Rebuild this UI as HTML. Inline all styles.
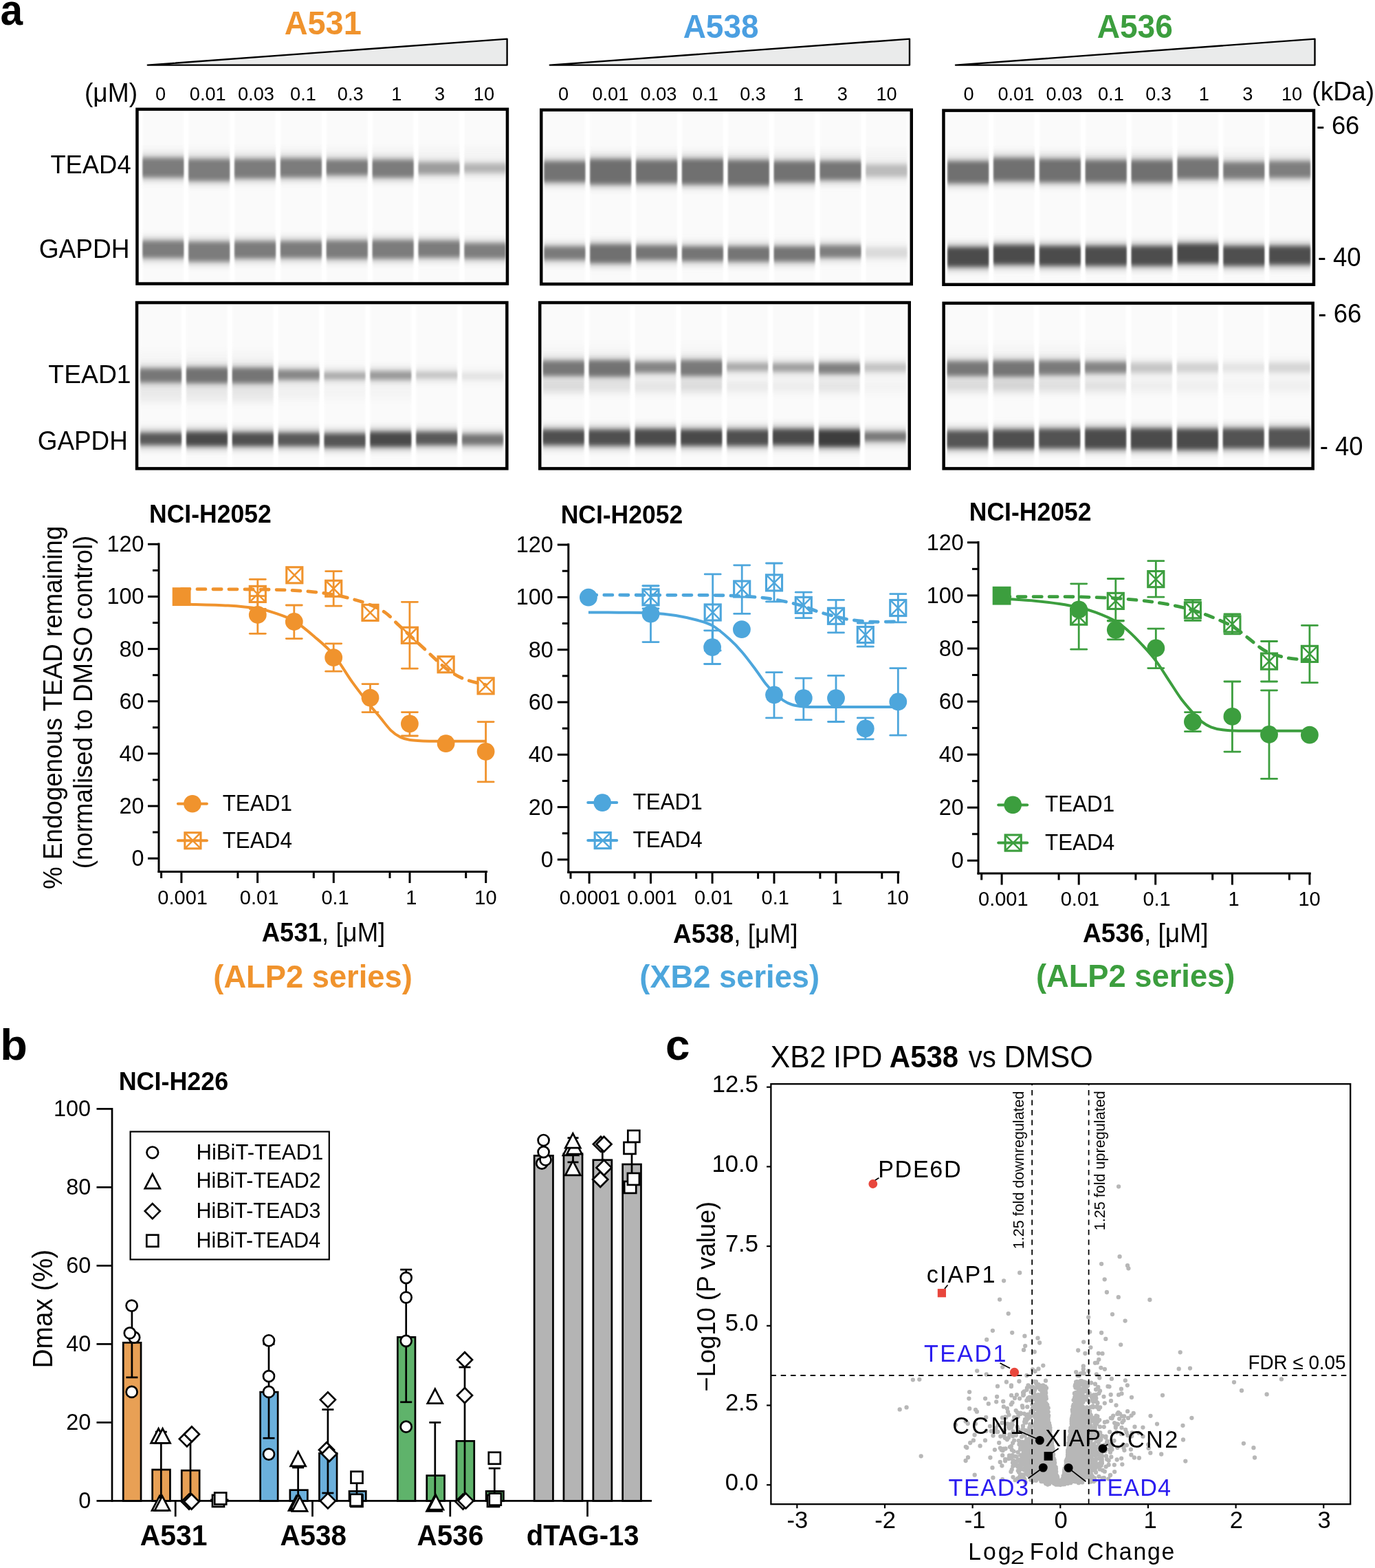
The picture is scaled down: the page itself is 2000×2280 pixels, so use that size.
<!DOCTYPE html>
<html lang="en"><head><meta charset="utf-8"><title>Figure</title>
<style>
html,body{margin:0;padding:0;background:#fff;}
body{width:2000px;height:2280px;overflow:hidden;font-family:'Liberation Sans', sans-serif;}
svg{display:block;}
svg text{font-family:"Liberation Sans",sans-serif;}
</style></head>
<body>
<svg width="2000" height="2280" viewBox="0 0 2000 2280">
<defs>
<filter id="bl" x="-5%" y="-20%" width="110%" height="140%"><feGaussianBlur stdDeviation="0.9 3.1"/></filter>
<filter id="blh" x="-5%" y="-20%" width="110%" height="140%"><feGaussianBlur stdDeviation="0.9 6"/></filter>
<filter id="bl2" x="-5%" y="-20%" width="110%" height="140%"><feGaussianBlur stdDeviation="0.9 6"/></filter>
<filter id="bl0" x="-5%" y="-5%" width="110%" height="110%"><feGaussianBlur stdDeviation="1.0 0"/></filter>
</defs>
<rect x="0" y="0" width="2000" height="2280" fill="#ffffff"/>
<text transform="translate(0.54,36.20) scale(0.9798,1.04)" font-size="59.80" font-weight="bold" fill="#000">a</text>
<text transform="translate(0.19,1540.70) scale(1.0792,1.04)" font-size="60.00" font-weight="bold" fill="#000">b</text>
<text transform="translate(967.95,1541.00) scale(1.0632,1.04)" font-size="60.00" font-weight="bold" fill="#000">c</text>
<text transform="translate(413.63,50.40) scale(1.0157,1.04)" font-size="46.20" font-weight="bold" fill="#F0932D">A531</text>
<text transform="translate(993.65,54.80) scale(0.9956,1.04)" font-size="46.20" font-weight="bold" fill="#4B9FE1">A538</text>
<text transform="translate(1595.65,54.80) scale(0.9977,1.04)" font-size="46.20" font-weight="bold" fill="#3C9E3E">A536</text>
<path d="M214.8,94.6 L737.6,56.6 L737.6,94.6 Z" fill="#eaebeb" stroke="#000" stroke-width="2.4" stroke-linejoin="round"/>
<path d="M799.8,94.6 L1323.0,56.6 L1323.0,94.6 Z" fill="#eaebeb" stroke="#000" stroke-width="2.4" stroke-linejoin="round"/>
<path d="M1390.0,94.6 L1912.5,56.6 L1912.5,94.6 Z" fill="#eaebeb" stroke="#000" stroke-width="2.4" stroke-linejoin="round"/>
<text transform="translate(122.88,147.60) scale(1.0000,1.04)" font-size="37.18" fill="#000">(μM)</text>
<text transform="translate(1908.28,146.20) scale(1.0000,1.04)" font-size="37.12" fill="#000">(kDa)</text>
<text transform="translate(226.02,145.60) scale(1.0000,1.04)" font-size="27.20" fill="#000">0</text>
<text transform="translate(275.83,145.60) scale(1.0000,1.04)" font-size="27.20" fill="#000">0.01</text>
<text transform="translate(345.98,145.60) scale(1.0000,1.04)" font-size="27.20" fill="#000">0.03</text>
<text transform="translate(422.08,145.60) scale(1.0000,1.04)" font-size="27.20" fill="#000">0.1</text>
<text transform="translate(490.83,145.60) scale(1.0000,1.04)" font-size="27.20" fill="#000">0.3</text>
<text transform="translate(569.16,145.60) scale(1.0000,1.04)" font-size="27.20" fill="#000">1</text>
<text transform="translate(632.12,145.60) scale(1.0000,1.04)" font-size="27.20" fill="#000">3</text>
<text transform="translate(688.79,145.60) scale(1.0000,1.04)" font-size="27.20" fill="#000">10</text>
<text transform="translate(812.02,145.60) scale(1.0000,1.04)" font-size="27.20" fill="#000">0</text>
<text transform="translate(861.43,145.60) scale(1.0000,1.04)" font-size="27.20" fill="#000">0.01</text>
<text transform="translate(931.58,145.60) scale(1.0000,1.04)" font-size="27.20" fill="#000">0.03</text>
<text transform="translate(1007.08,145.60) scale(1.0000,1.04)" font-size="27.20" fill="#000">0.1</text>
<text transform="translate(1076.13,145.60) scale(1.0000,1.04)" font-size="27.20" fill="#000">0.3</text>
<text transform="translate(1153.76,145.60) scale(1.0000,1.04)" font-size="27.20" fill="#000">1</text>
<text transform="translate(1217.82,145.60) scale(1.0000,1.04)" font-size="27.20" fill="#000">3</text>
<text transform="translate(1274.39,145.60) scale(1.0000,1.04)" font-size="27.20" fill="#000">10</text>
<text transform="translate(1401.62,145.60) scale(1.0000,1.04)" font-size="27.20" fill="#000">0</text>
<text transform="translate(1451.43,145.60) scale(1.0000,1.04)" font-size="27.20" fill="#000">0.01</text>
<text transform="translate(1521.58,145.60) scale(1.0000,1.04)" font-size="27.20" fill="#000">0.03</text>
<text transform="translate(1596.98,145.60) scale(1.0000,1.04)" font-size="27.20" fill="#000">0.1</text>
<text transform="translate(1666.13,145.60) scale(1.0000,1.04)" font-size="27.20" fill="#000">0.3</text>
<text transform="translate(1743.66,145.60) scale(1.0000,1.04)" font-size="27.20" fill="#000">1</text>
<text transform="translate(1807.32,145.60) scale(1.0000,1.04)" font-size="27.20" fill="#000">3</text>
<text transform="translate(1863.99,145.60) scale(1.0000,1.04)" font-size="27.20" fill="#000">10</text>
<text transform="translate(73.38,252.00) scale(1.0000,1.04)" font-size="36.38" fill="#000">TEAD4</text>
<text transform="translate(56.74,374.80) scale(1.0000,1.04)" font-size="37.11" fill="#000">GAPDH</text>
<text transform="translate(70.36,556.90) scale(1.0253,1.04)" font-size="36.40" fill="#000">TEAD1</text>
<text transform="translate(54.76,653.50) scale(1.0123,1.04)" font-size="36.40" fill="#000">GAPDH</text>
<text transform="translate(1914.66,194.80) scale(1.0000,1.04)" font-size="36.39" fill="#000">- 66</text>
<text transform="translate(1916.65,387.20) scale(1.0000,1.04)" font-size="36.59" fill="#000">- 40</text>
<text transform="translate(1917.35,469.20) scale(1.0000,1.04)" font-size="36.57" fill="#000">- 66</text>
<text transform="translate(1919.76,661.60) scale(1.0000,1.04)" font-size="36.46" fill="#000">- 40</text>
<rect x="199.45" y="158.85" width="538.50" height="253.70" fill="#ffffff"/>
<g filter="url(#bl0)">
<rect x="207.60" y="161.10" width="59.50" height="249.20" fill="#fafafa"/>
<rect x="274.46" y="161.10" width="59.50" height="249.20" fill="#fafafa"/>
<rect x="341.32" y="161.10" width="59.50" height="249.20" fill="#fafafa"/>
<rect x="408.18" y="161.10" width="59.50" height="249.20" fill="#fafafa"/>
<rect x="475.04" y="161.10" width="59.50" height="249.20" fill="#fafafa"/>
<rect x="541.90" y="161.10" width="59.50" height="249.20" fill="#fafafa"/>
<rect x="608.76" y="161.10" width="59.50" height="249.20" fill="#fafafa"/>
<rect x="675.62" y="161.10" width="59.50" height="249.20" fill="#fafafa"/>
</g>
<g filter="url(#bl2)">
<rect x="207.60" y="214.00" width="59.50" height="18.00" fill="#f5f5f5"/>
<rect x="274.46" y="214.00" width="59.50" height="18.00" fill="#f5f5f5"/>
<rect x="341.32" y="214.00" width="59.50" height="18.00" fill="#f5f5f5"/>
<rect x="408.18" y="214.00" width="59.50" height="18.00" fill="#f5f5f5"/>
<rect x="475.04" y="214.00" width="59.50" height="18.00" fill="#f5f5f5"/>
<rect x="541.90" y="214.00" width="59.50" height="18.00" fill="#f5f5f5"/>
<rect x="608.76" y="214.00" width="59.50" height="18.00" fill="#f5f5f5"/>
<rect x="675.62" y="214.00" width="59.50" height="18.00" fill="#f5f5f5"/>
</g>
<g filter="url(#blh)">
<rect x="207.60" y="226.20" width="59.50" height="35.10" fill="#c0c0c0"/>
<rect x="274.46" y="227.90" width="59.50" height="38.40" fill="#c0c0c0"/>
<rect x="341.32" y="227.90" width="59.50" height="35.00" fill="#c0c0c0"/>
<rect x="408.18" y="227.00" width="59.50" height="34.30" fill="#c0c0c0"/>
<rect x="475.04" y="228.90" width="59.50" height="29.20" fill="#c0c0c0"/>
<rect x="541.90" y="228.90" width="59.50" height="32.60" fill="#c0c0c0"/>
<rect x="608.76" y="232.50" width="59.50" height="24.00" fill="#cfcfcf"/>
<rect x="675.62" y="234.20" width="59.50" height="20.30" fill="#dadada"/>
<rect x="207.60" y="346.70" width="59.50" height="31.70" fill="#c0c0c0"/>
<rect x="274.46" y="348.30" width="59.50" height="35.20" fill="#c0c0c0"/>
<rect x="341.32" y="347.50" width="59.50" height="31.70" fill="#c0c0c0"/>
<rect x="408.18" y="347.50" width="59.50" height="30.90" fill="#c0c0c0"/>
<rect x="475.04" y="346.50" width="59.50" height="33.00" fill="#c0c0c0"/>
<rect x="541.90" y="345.80" width="59.50" height="33.70" fill="#c0c0c0"/>
<rect x="608.76" y="346.70" width="59.50" height="31.00" fill="#c0c0c0"/>
<rect x="675.62" y="350.20" width="59.50" height="29.30" fill="#c2c2c2"/>
</g>
<g filter="url(#bl)">
<rect x="207.60" y="230.20" width="59.50" height="27.10" fill="#7b7b7b"/>
<rect x="274.46" y="231.90" width="59.50" height="30.40" fill="#7b7b7b"/>
<rect x="341.32" y="231.90" width="59.50" height="27.00" fill="#7b7b7b"/>
<rect x="408.18" y="231.00" width="59.50" height="26.30" fill="#7b7b7b"/>
<rect x="475.04" y="232.90" width="59.50" height="21.20" fill="#7b7b7b"/>
<rect x="541.90" y="232.90" width="59.50" height="24.60" fill="#7b7b7b"/>
<rect x="608.76" y="236.50" width="59.50" height="16.00" fill="#9c9c9c"/>
<rect x="675.62" y="238.20" width="59.50" height="12.30" fill="#b4b4b4"/>
<rect x="207.60" y="350.70" width="59.50" height="23.70" fill="#7b7b7b"/>
<rect x="274.46" y="352.30" width="59.50" height="27.20" fill="#7b7b7b"/>
<rect x="341.32" y="351.50" width="59.50" height="23.70" fill="#7b7b7b"/>
<rect x="408.18" y="351.50" width="59.50" height="22.90" fill="#7b7b7b"/>
<rect x="475.04" y="350.50" width="59.50" height="25.00" fill="#7b7b7b"/>
<rect x="541.90" y="349.80" width="59.50" height="25.70" fill="#7b7b7b"/>
<rect x="608.76" y="350.70" width="59.50" height="23.00" fill="#7b7b7b"/>
<rect x="675.62" y="354.20" width="59.50" height="21.30" fill="#7e7e7e"/>
</g>
<rect x="199.45" y="158.85" width="538.50" height="253.70" fill="none" stroke="#000" stroke-width="4.5"/>
<rect x="787.25" y="159.85" width="538.50" height="253.20" fill="#ffffff"/>
<g filter="url(#bl0)">
<rect x="791.60" y="162.10" width="59.50" height="248.70" fill="#fafafa"/>
<rect x="858.46" y="162.10" width="59.50" height="248.70" fill="#fafafa"/>
<rect x="925.32" y="162.10" width="59.50" height="248.70" fill="#fafafa"/>
<rect x="992.18" y="162.10" width="59.50" height="248.70" fill="#fafafa"/>
<rect x="1059.04" y="162.10" width="59.50" height="248.70" fill="#fafafa"/>
<rect x="1125.90" y="162.10" width="59.50" height="248.70" fill="#fafafa"/>
<rect x="1192.76" y="162.10" width="59.50" height="248.70" fill="#fafafa"/>
<rect x="1259.62" y="162.10" width="59.50" height="248.70" fill="#fafafa"/>
</g>
<g filter="url(#bl2)">
<rect x="791.60" y="216.00" width="59.50" height="20.00" fill="#f5f5f5"/>
<rect x="858.46" y="216.00" width="59.50" height="20.00" fill="#f5f5f5"/>
<rect x="925.32" y="216.00" width="59.50" height="20.00" fill="#f5f5f5"/>
<rect x="992.18" y="216.00" width="59.50" height="20.00" fill="#f5f5f5"/>
<rect x="1059.04" y="216.00" width="59.50" height="20.00" fill="#f5f5f5"/>
<rect x="1125.90" y="216.00" width="59.50" height="20.00" fill="#f5f5f5"/>
<rect x="1192.76" y="216.00" width="59.50" height="20.00" fill="#f5f5f5"/>
<rect x="1259.62" y="216.00" width="59.50" height="20.00" fill="#f5f5f5"/>
</g>
<g filter="url(#blh)">
<rect x="791.60" y="231.00" width="59.50" height="37.30" fill="#bdbdbd"/>
<rect x="858.46" y="227.90" width="59.50" height="43.60" fill="#bbbbbb"/>
<rect x="925.32" y="229.50" width="59.50" height="40.40" fill="#bbbbbb"/>
<rect x="992.18" y="227.90" width="59.50" height="43.60" fill="#bbbbbb"/>
<rect x="1059.04" y="229.50" width="59.50" height="43.60" fill="#bbbbbb"/>
<rect x="1125.90" y="231.00" width="59.50" height="37.30" fill="#bcbcbc"/>
<rect x="1192.76" y="231.00" width="59.50" height="34.10" fill="#bebebe"/>
<rect x="1259.62" y="235.80" width="59.50" height="24.60" fill="#dedede"/>
<rect x="791.60" y="355.00" width="59.50" height="26.20" fill="#c0c0c0"/>
<rect x="858.46" y="351.90" width="59.50" height="34.00" fill="#bbbbbb"/>
<rect x="925.32" y="353.50" width="59.50" height="27.70" fill="#bdbdbd"/>
<rect x="992.18" y="355.00" width="59.50" height="27.80" fill="#bdbdbd"/>
<rect x="1059.04" y="355.00" width="59.50" height="28.50" fill="#bdbdbd"/>
<rect x="1125.90" y="355.00" width="59.50" height="28.50" fill="#bdbdbd"/>
<rect x="1192.76" y="353.50" width="59.50" height="24.50" fill="#c2c2c2"/>
<rect x="1259.62" y="356.50" width="59.50" height="21.50" fill="#ebebeb"/>
</g>
<g filter="url(#bl)">
<rect x="791.60" y="235.00" width="59.50" height="29.30" fill="#737373"/>
<rect x="858.46" y="231.90" width="59.50" height="35.60" fill="#6e6e6e"/>
<rect x="925.32" y="233.50" width="59.50" height="32.40" fill="#707070"/>
<rect x="992.18" y="231.90" width="59.50" height="35.60" fill="#707070"/>
<rect x="1059.04" y="233.50" width="59.50" height="35.60" fill="#707070"/>
<rect x="1125.90" y="235.00" width="59.50" height="29.30" fill="#727272"/>
<rect x="1192.76" y="235.00" width="59.50" height="26.10" fill="#767676"/>
<rect x="1259.62" y="239.80" width="59.50" height="16.60" fill="#bcbcbc"/>
<rect x="791.60" y="359.00" width="59.50" height="18.20" fill="#7a7a7a"/>
<rect x="858.46" y="355.90" width="59.50" height="26.00" fill="#707070"/>
<rect x="925.32" y="357.50" width="59.50" height="19.70" fill="#747474"/>
<rect x="992.18" y="359.00" width="59.50" height="19.80" fill="#747474"/>
<rect x="1059.04" y="359.00" width="59.50" height="20.50" fill="#747474"/>
<rect x="1125.90" y="359.00" width="59.50" height="20.50" fill="#747474"/>
<rect x="1192.76" y="357.50" width="59.50" height="16.50" fill="#7e7e7e"/>
<rect x="1259.62" y="360.50" width="59.50" height="13.50" fill="#dadada"/>
</g>
<rect x="787.25" y="159.85" width="538.50" height="253.20" fill="none" stroke="#000" stroke-width="4.5"/>
<rect x="1372.45" y="160.65" width="538.50" height="253.10" fill="#ffffff"/>
<g filter="url(#bl0)">
<rect x="1378.40" y="162.90" width="59.50" height="248.60" fill="#fafafa"/>
<rect x="1445.26" y="162.90" width="59.50" height="248.60" fill="#fafafa"/>
<rect x="1512.12" y="162.90" width="59.50" height="248.60" fill="#fafafa"/>
<rect x="1578.98" y="162.90" width="59.50" height="248.60" fill="#fafafa"/>
<rect x="1645.84" y="162.90" width="59.50" height="248.60" fill="#fafafa"/>
<rect x="1712.70" y="162.90" width="59.50" height="248.60" fill="#fafafa"/>
<rect x="1779.56" y="162.90" width="59.50" height="248.60" fill="#fafafa"/>
<rect x="1846.42" y="162.90" width="59.50" height="248.60" fill="#fafafa"/>
</g>
<g filter="url(#bl2)">
<rect x="1378.40" y="216.00" width="59.50" height="20.00" fill="#f5f5f5"/>
<rect x="1445.26" y="216.00" width="59.50" height="20.00" fill="#f5f5f5"/>
<rect x="1512.12" y="216.00" width="59.50" height="20.00" fill="#f5f5f5"/>
<rect x="1578.98" y="216.00" width="59.50" height="20.00" fill="#f5f5f5"/>
<rect x="1645.84" y="216.00" width="59.50" height="20.00" fill="#f5f5f5"/>
<rect x="1712.70" y="216.00" width="59.50" height="20.00" fill="#f5f5f5"/>
<rect x="1779.56" y="216.00" width="59.50" height="20.00" fill="#f5f5f5"/>
<rect x="1846.42" y="216.00" width="59.50" height="20.00" fill="#f5f5f5"/>
</g>
<g filter="url(#blh)">
<rect x="1378.40" y="231.00" width="59.50" height="38.90" fill="#bbbbbb"/>
<rect x="1445.26" y="226.30" width="59.50" height="40.40" fill="#bbbbbb"/>
<rect x="1512.12" y="227.90" width="59.50" height="40.40" fill="#bbbbbb"/>
<rect x="1578.98" y="229.50" width="59.50" height="38.80" fill="#bbbbbb"/>
<rect x="1645.84" y="229.50" width="59.50" height="38.80" fill="#bbbbbb"/>
<rect x="1712.70" y="226.30" width="59.50" height="37.20" fill="#bdbdbd"/>
<rect x="1779.56" y="232.50" width="59.50" height="31.00" fill="#c0c0c0"/>
<rect x="1846.42" y="231.00" width="59.50" height="30.90" fill="#c2c2c2"/>
<rect x="1378.40" y="356.00" width="59.50" height="35.40" fill="#ababab"/>
<rect x="1445.26" y="352.80" width="59.50" height="35.20" fill="#ababab"/>
<rect x="1512.12" y="354.40" width="59.50" height="35.40" fill="#ababab"/>
<rect x="1578.98" y="354.40" width="59.50" height="35.40" fill="#acacac"/>
<rect x="1645.84" y="354.40" width="59.50" height="35.40" fill="#acacac"/>
<rect x="1712.70" y="351.00" width="59.50" height="35.60" fill="#aaaaaa"/>
<rect x="1779.56" y="354.40" width="59.50" height="35.40" fill="#adadad"/>
<rect x="1846.42" y="354.40" width="59.50" height="33.80" fill="#acacac"/>
</g>
<g filter="url(#bl)">
<rect x="1378.40" y="235.00" width="59.50" height="30.90" fill="#707070"/>
<rect x="1445.26" y="230.30" width="59.50" height="32.40" fill="#707070"/>
<rect x="1512.12" y="231.90" width="59.50" height="32.40" fill="#707070"/>
<rect x="1578.98" y="233.50" width="59.50" height="30.80" fill="#707070"/>
<rect x="1645.84" y="233.50" width="59.50" height="30.80" fill="#707070"/>
<rect x="1712.70" y="230.30" width="59.50" height="29.20" fill="#747474"/>
<rect x="1779.56" y="236.50" width="59.50" height="23.00" fill="#7a7a7a"/>
<rect x="1846.42" y="235.00" width="59.50" height="22.90" fill="#7e7e7e"/>
<rect x="1378.40" y="360.00" width="59.50" height="27.40" fill="#4c4c4c"/>
<rect x="1445.26" y="356.80" width="59.50" height="27.20" fill="#4c4c4c"/>
<rect x="1512.12" y="358.40" width="59.50" height="27.40" fill="#4c4c4c"/>
<rect x="1578.98" y="358.40" width="59.50" height="27.40" fill="#4e4e4e"/>
<rect x="1645.84" y="358.40" width="59.50" height="27.40" fill="#4e4e4e"/>
<rect x="1712.70" y="355.00" width="59.50" height="27.60" fill="#4a4a4a"/>
<rect x="1779.56" y="358.40" width="59.50" height="27.40" fill="#505050"/>
<rect x="1846.42" y="358.40" width="59.50" height="25.80" fill="#4e4e4e"/>
</g>
<rect x="1372.45" y="160.65" width="538.50" height="253.10" fill="none" stroke="#000" stroke-width="4.5"/>
<rect x="199.05" y="440.05" width="538.30" height="241.30" fill="#ffffff"/>
<g filter="url(#bl0)">
<rect x="204.30" y="442.30" width="59.50" height="236.80" fill="#fafafa"/>
<rect x="271.16" y="442.30" width="59.50" height="236.80" fill="#fafafa"/>
<rect x="338.02" y="442.30" width="59.50" height="236.80" fill="#fafafa"/>
<rect x="404.88" y="442.30" width="59.50" height="236.80" fill="#fafafa"/>
<rect x="471.74" y="442.30" width="59.50" height="236.80" fill="#fafafa"/>
<rect x="538.60" y="442.30" width="59.50" height="236.80" fill="#fafafa"/>
<rect x="605.46" y="442.30" width="59.50" height="236.80" fill="#fafafa"/>
<rect x="672.32" y="442.30" width="59.50" height="236.80" fill="#fafafa"/>
</g>
<g filter="url(#bl2)">
<rect x="204.30" y="560.00" width="59.50" height="24.00" fill="#eaeaea"/>
<rect x="271.16" y="560.00" width="59.50" height="24.00" fill="#eaeaea"/>
<rect x="338.02" y="560.00" width="59.50" height="24.00" fill="#e8e8e8"/>
<rect x="404.88" y="560.00" width="59.50" height="20.00" fill="#f0f0f0"/>
<rect x="471.74" y="560.00" width="59.50" height="20.00" fill="#f4f4f4"/>
<rect x="538.60" y="560.00" width="59.50" height="20.00" fill="#f4f4f4"/>
<rect x="204.30" y="512.00" width="59.50" height="18.00" fill="#f6f6f6"/>
<rect x="271.16" y="512.00" width="59.50" height="18.00" fill="#f5f5f5"/>
<rect x="338.02" y="512.00" width="59.50" height="18.00" fill="#f4f4f4"/>
</g>
<g filter="url(#blh)">
<rect x="204.30" y="532.50" width="59.50" height="27.00" fill="#bfbfbf"/>
<rect x="271.16" y="531.00" width="59.50" height="29.50" fill="#bcbcbc"/>
<rect x="338.02" y="531.50" width="59.50" height="29.00" fill="#bdbdbd"/>
<rect x="404.88" y="534.50" width="59.50" height="21.00" fill="#c5c5c5"/>
<rect x="471.74" y="538.10" width="59.50" height="16.80" fill="#d5d5d5"/>
<rect x="538.60" y="536.50" width="59.50" height="19.00" fill="#cdcdcd"/>
<rect x="605.46" y="537.50" width="59.50" height="16.00" fill="#e0e0e0"/>
<rect x="672.32" y="539.00" width="59.50" height="15.90" fill="#efefef"/>
<rect x="204.30" y="626.00" width="59.50" height="24.40" fill="#b1b1b1"/>
<rect x="271.16" y="624.60" width="59.50" height="27.40" fill="#aaaaaa"/>
<rect x="338.02" y="625.50" width="59.50" height="26.50" fill="#adadad"/>
<rect x="404.88" y="626.00" width="59.50" height="26.00" fill="#b1b1b1"/>
<rect x="471.74" y="627.00" width="59.50" height="27.00" fill="#afafaf"/>
<rect x="538.60" y="624.60" width="59.50" height="28.40" fill="#a9a9a9"/>
<rect x="605.46" y="624.60" width="59.50" height="25.80" fill="#b1b1b1"/>
<rect x="672.32" y="628.00" width="59.50" height="22.40" fill="#bdbdbd"/>
</g>
<g filter="url(#bl)">
<rect x="204.30" y="536.50" width="59.50" height="19.00" fill="#777777"/>
<rect x="271.16" y="535.00" width="59.50" height="21.50" fill="#727272"/>
<rect x="338.02" y="535.50" width="59.50" height="21.00" fill="#747474"/>
<rect x="404.88" y="538.50" width="59.50" height="13.00" fill="#868686"/>
<rect x="471.74" y="542.10" width="59.50" height="8.80" fill="#a8a8a8"/>
<rect x="538.60" y="540.50" width="59.50" height="11.00" fill="#989898"/>
<rect x="605.46" y="541.50" width="59.50" height="8.00" fill="#c2c2c2"/>
<rect x="672.32" y="543.00" width="59.50" height="7.90" fill="#e2e2e2"/>
<rect x="204.30" y="630.00" width="59.50" height="16.40" fill="#585858"/>
<rect x="271.16" y="628.60" width="59.50" height="19.40" fill="#4a4a4a"/>
<rect x="338.02" y="629.50" width="59.50" height="18.50" fill="#505050"/>
<rect x="404.88" y="630.00" width="59.50" height="18.00" fill="#585858"/>
<rect x="471.74" y="631.00" width="59.50" height="19.00" fill="#555555"/>
<rect x="538.60" y="628.60" width="59.50" height="20.40" fill="#484848"/>
<rect x="605.46" y="628.60" width="59.50" height="17.80" fill="#585858"/>
<rect x="672.32" y="632.00" width="59.50" height="14.40" fill="#747474"/>
</g>
<rect x="199.05" y="440.05" width="538.30" height="241.30" fill="none" stroke="#000" stroke-width="4.5"/>
<rect x="785.25" y="440.05" width="537.50" height="241.30" fill="#ffffff"/>
<g filter="url(#bl0)">
<rect x="790.00" y="442.30" width="59.50" height="236.80" fill="#fafafa"/>
<rect x="856.86" y="442.30" width="59.50" height="236.80" fill="#fafafa"/>
<rect x="923.72" y="442.30" width="59.50" height="236.80" fill="#fafafa"/>
<rect x="990.58" y="442.30" width="59.50" height="236.80" fill="#fafafa"/>
<rect x="1057.44" y="442.30" width="59.50" height="236.80" fill="#fafafa"/>
<rect x="1124.30" y="442.30" width="59.50" height="236.80" fill="#fafafa"/>
<rect x="1191.16" y="442.30" width="59.50" height="236.80" fill="#fafafa"/>
<rect x="1258.02" y="442.30" width="59.50" height="236.80" fill="#fafafa"/>
</g>
<g filter="url(#bl2)">
<rect x="790.00" y="553.00" width="59.50" height="17.00" fill="#d8d8d8"/>
<rect x="856.86" y="553.00" width="59.50" height="17.00" fill="#e0e0e0"/>
<rect x="923.72" y="553.00" width="59.50" height="17.00" fill="#e3e3e3"/>
<rect x="990.58" y="553.00" width="59.50" height="17.00" fill="#dadada"/>
<rect x="1057.44" y="553.00" width="59.50" height="17.00" fill="#eaeaea"/>
<rect x="1124.30" y="553.00" width="59.50" height="17.00" fill="#ececec"/>
<rect x="1191.16" y="553.00" width="59.50" height="17.00" fill="#e3e3e3"/>
<rect x="1258.02" y="553.00" width="59.50" height="17.00" fill="#f3f3f3"/>
<rect x="790.00" y="502.00" width="59.50" height="18.00" fill="#f6f6f6"/>
<rect x="856.86" y="502.00" width="59.50" height="18.00" fill="#f6f6f6"/>
<rect x="990.58" y="502.00" width="59.50" height="18.00" fill="#f6f6f6"/>
</g>
<g filter="url(#blh)">
<rect x="790.00" y="521.20" width="59.50" height="28.80" fill="#bfbfbf"/>
<rect x="856.86" y="520.50" width="59.50" height="30.50" fill="#bcbcbc"/>
<rect x="923.72" y="522.90" width="59.50" height="22.30" fill="#c4c4c4"/>
<rect x="990.58" y="520.50" width="59.50" height="29.50" fill="#bfbfbf"/>
<rect x="1057.44" y="524.50" width="59.50" height="18.00" fill="#d5d5d5"/>
<rect x="1124.30" y="525.10" width="59.50" height="18.40" fill="#d0d0d0"/>
<rect x="1191.16" y="524.50" width="59.50" height="22.30" fill="#c3c3c3"/>
<rect x="1258.02" y="525.10" width="59.50" height="18.40" fill="#e0e0e0"/>
<rect x="790.00" y="621.40" width="59.50" height="29.00" fill="#adadad"/>
<rect x="856.86" y="621.40" width="59.50" height="30.00" fill="#adadad"/>
<rect x="923.72" y="620.40" width="59.50" height="31.00" fill="#ababab"/>
<rect x="990.58" y="621.40" width="59.50" height="30.00" fill="#a9a9a9"/>
<rect x="1057.44" y="621.40" width="59.50" height="30.00" fill="#adadad"/>
<rect x="1124.30" y="620.40" width="59.50" height="30.00" fill="#a9a9a9"/>
<rect x="1191.16" y="621.40" width="59.50" height="31.60" fill="#a4a4a4"/>
<rect x="1258.02" y="624.60" width="59.50" height="20.40" fill="#bfbfbf"/>
</g>
<g filter="url(#bl)">
<rect x="790.00" y="525.20" width="59.50" height="20.80" fill="#777777"/>
<rect x="856.86" y="524.50" width="59.50" height="22.50" fill="#727272"/>
<rect x="923.72" y="526.90" width="59.50" height="14.30" fill="#848484"/>
<rect x="990.58" y="524.50" width="59.50" height="21.50" fill="#797979"/>
<rect x="1057.44" y="528.50" width="59.50" height="10.00" fill="#a8a8a8"/>
<rect x="1124.30" y="529.10" width="59.50" height="10.40" fill="#9e9e9e"/>
<rect x="1191.16" y="528.50" width="59.50" height="14.30" fill="#808080"/>
<rect x="1258.02" y="529.10" width="59.50" height="10.40" fill="#c2c2c2"/>
<rect x="790.00" y="625.40" width="59.50" height="21.00" fill="#505050"/>
<rect x="856.86" y="625.40" width="59.50" height="22.00" fill="#505050"/>
<rect x="923.72" y="624.40" width="59.50" height="23.00" fill="#4c4c4c"/>
<rect x="990.58" y="625.40" width="59.50" height="22.00" fill="#484848"/>
<rect x="1057.44" y="625.40" width="59.50" height="22.00" fill="#505050"/>
<rect x="1124.30" y="624.40" width="59.50" height="22.00" fill="#484848"/>
<rect x="1191.16" y="625.40" width="59.50" height="23.60" fill="#3c3c3c"/>
<rect x="1258.02" y="628.60" width="59.50" height="12.40" fill="#787878"/>
</g>
<rect x="785.25" y="440.05" width="537.50" height="241.30" fill="none" stroke="#000" stroke-width="4.5"/>
<rect x="1372.65" y="440.85" width="537.00" height="240.50" fill="#ffffff"/>
<g filter="url(#bl0)">
<rect x="1377.80" y="443.10" width="59.50" height="236.00" fill="#fafafa"/>
<rect x="1444.66" y="443.10" width="59.50" height="236.00" fill="#fafafa"/>
<rect x="1511.52" y="443.10" width="59.50" height="236.00" fill="#fafafa"/>
<rect x="1578.38" y="443.10" width="59.50" height="236.00" fill="#fafafa"/>
<rect x="1645.24" y="443.10" width="59.50" height="236.00" fill="#fafafa"/>
<rect x="1712.10" y="443.10" width="59.50" height="236.00" fill="#fafafa"/>
<rect x="1778.96" y="443.10" width="59.50" height="236.00" fill="#fafafa"/>
<rect x="1845.82" y="443.10" width="59.50" height="236.00" fill="#fafafa"/>
</g>
<g filter="url(#bl2)">
<rect x="1377.80" y="553.00" width="59.50" height="16.00" fill="#d8d8d8"/>
<rect x="1444.66" y="553.00" width="59.50" height="16.00" fill="#d0d0d0"/>
<rect x="1511.52" y="553.00" width="59.50" height="16.00" fill="#dcdcdc"/>
<rect x="1578.38" y="553.00" width="59.50" height="16.00" fill="#dedede"/>
<rect x="1645.24" y="553.00" width="59.50" height="16.00" fill="#ececec"/>
<rect x="1712.10" y="553.00" width="59.50" height="16.00" fill="#eeeeee"/>
<rect x="1778.96" y="553.00" width="59.50" height="16.00" fill="#f3f3f3"/>
<rect x="1845.82" y="553.00" width="59.50" height="16.00" fill="#eeeeee"/>
<rect x="1377.80" y="502.00" width="59.50" height="18.00" fill="#f5f5f5"/>
<rect x="1444.66" y="502.00" width="59.50" height="18.00" fill="#f5f5f5"/>
<rect x="1511.52" y="502.00" width="59.50" height="18.00" fill="#f5f5f5"/>
<rect x="1578.38" y="502.00" width="59.50" height="18.00" fill="#f6f6f6"/>
</g>
<g filter="url(#blh)">
<rect x="1377.80" y="521.90" width="59.50" height="28.10" fill="#bfbfbf"/>
<rect x="1444.66" y="521.20" width="59.50" height="29.80" fill="#bdbdbd"/>
<rect x="1511.52" y="521.20" width="59.50" height="27.30" fill="#c0c0c0"/>
<rect x="1578.38" y="522.90" width="59.50" height="22.90" fill="#c4c4c4"/>
<rect x="1645.24" y="524.50" width="59.50" height="20.70" fill="#e2e2e2"/>
<rect x="1712.10" y="524.50" width="59.50" height="20.00" fill="#e8e8e8"/>
<rect x="1778.96" y="525.10" width="59.50" height="18.40" fill="#f0f0f0"/>
<rect x="1845.82" y="524.50" width="59.50" height="20.00" fill="#e9e9e9"/>
<rect x="1377.80" y="623.00" width="59.50" height="32.30" fill="#afafaf"/>
<rect x="1444.66" y="621.40" width="59.50" height="34.90" fill="#adadad"/>
<rect x="1511.52" y="620.40" width="59.50" height="34.90" fill="#aeaeae"/>
<rect x="1578.38" y="619.80" width="59.50" height="36.50" fill="#ababab"/>
<rect x="1645.24" y="619.80" width="59.50" height="37.20" fill="#ababab"/>
<rect x="1712.10" y="620.40" width="59.50" height="37.10" fill="#ababab"/>
<rect x="1778.96" y="619.80" width="59.50" height="35.50" fill="#aeaeae"/>
<rect x="1845.82" y="619.10" width="59.50" height="36.20" fill="#afafaf"/>
</g>
<g filter="url(#bl)">
<rect x="1377.80" y="525.90" width="59.50" height="20.10" fill="#777777"/>
<rect x="1444.66" y="525.20" width="59.50" height="21.80" fill="#747474"/>
<rect x="1511.52" y="525.20" width="59.50" height="19.30" fill="#7a7a7a"/>
<rect x="1578.38" y="526.90" width="59.50" height="14.90" fill="#848484"/>
<rect x="1645.24" y="528.50" width="59.50" height="12.70" fill="#c6c6c6"/>
<rect x="1712.10" y="528.50" width="59.50" height="12.00" fill="#d2d2d2"/>
<rect x="1778.96" y="529.10" width="59.50" height="10.40" fill="#e4e4e4"/>
<rect x="1845.82" y="528.50" width="59.50" height="12.00" fill="#d6d6d6"/>
<rect x="1377.80" y="627.00" width="59.50" height="24.30" fill="#555555"/>
<rect x="1444.66" y="625.40" width="59.50" height="26.90" fill="#505050"/>
<rect x="1511.52" y="624.40" width="59.50" height="26.90" fill="#525252"/>
<rect x="1578.38" y="623.80" width="59.50" height="28.50" fill="#4c4c4c"/>
<rect x="1645.24" y="623.80" width="59.50" height="29.20" fill="#4c4c4c"/>
<rect x="1712.10" y="624.40" width="59.50" height="29.10" fill="#4c4c4c"/>
<rect x="1778.96" y="623.80" width="59.50" height="27.50" fill="#525252"/>
<rect x="1845.82" y="623.10" width="59.50" height="28.20" fill="#555555"/>
</g>
<rect x="1372.65" y="440.85" width="537.00" height="240.50" fill="none" stroke="#000" stroke-width="4.5"/>
<line x1="231.00" y1="789.50" x2="231.00" y2="1269.00" stroke="#000" stroke-width="3.0"/>
<line x1="229.50" y1="1267.50" x2="709.00" y2="1267.50" stroke="#000" stroke-width="3.0"/>
<line x1="215.00" y1="1248.20" x2="231.00" y2="1248.20" stroke="#000" stroke-width="3.0"/>
<text transform="translate(191.43,1259.10) scale(1.0000,1.04)" font-size="32.40" fill="#000">0</text>
<line x1="222.00" y1="1210.12" x2="231.00" y2="1210.12" stroke="#000" stroke-width="3.0"/>
<line x1="215.00" y1="1172.05" x2="231.00" y2="1172.05" stroke="#000" stroke-width="3.0"/>
<text transform="translate(173.45,1182.95) scale(1.0000,1.04)" font-size="32.40" fill="#000">20</text>
<line x1="222.00" y1="1133.98" x2="231.00" y2="1133.98" stroke="#000" stroke-width="3.0"/>
<line x1="215.00" y1="1095.90" x2="231.00" y2="1095.90" stroke="#000" stroke-width="3.0"/>
<text transform="translate(173.45,1106.80) scale(1.0000,1.04)" font-size="32.40" fill="#000">40</text>
<line x1="222.00" y1="1057.83" x2="231.00" y2="1057.83" stroke="#000" stroke-width="3.0"/>
<line x1="215.00" y1="1019.75" x2="231.00" y2="1019.75" stroke="#000" stroke-width="3.0"/>
<text transform="translate(173.45,1030.65) scale(1.0000,1.04)" font-size="32.40" fill="#000">60</text>
<line x1="222.00" y1="981.67" x2="231.00" y2="981.67" stroke="#000" stroke-width="3.0"/>
<line x1="215.00" y1="943.60" x2="231.00" y2="943.60" stroke="#000" stroke-width="3.0"/>
<text transform="translate(173.45,954.50) scale(1.0000,1.04)" font-size="32.40" fill="#000">80</text>
<line x1="222.00" y1="905.53" x2="231.00" y2="905.53" stroke="#000" stroke-width="3.0"/>
<line x1="215.00" y1="867.45" x2="231.00" y2="867.45" stroke="#000" stroke-width="3.0"/>
<text transform="translate(155.39,878.35) scale(1.0000,1.04)" font-size="32.40" fill="#000">100</text>
<line x1="222.00" y1="829.38" x2="231.00" y2="829.38" stroke="#000" stroke-width="3.0"/>
<line x1="215.00" y1="791.30" x2="231.00" y2="791.30" stroke="#000" stroke-width="3.0"/>
<text transform="translate(155.39,802.20) scale(1.0000,1.04)" font-size="32.40" fill="#000">120</text>
<line x1="263.90" y1="1267.50" x2="263.90" y2="1284.00" stroke="#000" stroke-width="3.0"/>
<line x1="374.60" y1="1267.50" x2="374.60" y2="1284.00" stroke="#000" stroke-width="3.0"/>
<line x1="485.30" y1="1267.50" x2="485.30" y2="1284.00" stroke="#000" stroke-width="3.0"/>
<line x1="596.00" y1="1267.50" x2="596.00" y2="1284.00" stroke="#000" stroke-width="3.0"/>
<line x1="706.70" y1="1267.50" x2="706.70" y2="1284.00" stroke="#000" stroke-width="3.0"/>
<line x1="234.60" y1="1267.50" x2="234.60" y2="1277.00" stroke="#000" stroke-width="3.0"/>
<line x1="345.90" y1="1267.50" x2="345.90" y2="1277.00" stroke="#000" stroke-width="3.0"/>
<line x1="456.30" y1="1267.50" x2="456.30" y2="1277.00" stroke="#000" stroke-width="3.0"/>
<line x1="567.00" y1="1267.50" x2="567.00" y2="1277.00" stroke="#000" stroke-width="3.0"/>
<line x1="677.70" y1="1267.50" x2="677.70" y2="1277.00" stroke="#000" stroke-width="3.0"/>
<text transform="translate(229.35,1314.60) scale(1.0000,1.04)" font-size="29.00" fill="#000">0.001</text>
<text transform="translate(348.83,1314.60) scale(1.0000,1.04)" font-size="29.00" fill="#000">0.01</text>
<text transform="translate(467.38,1314.60) scale(1.0000,1.04)" font-size="29.00" fill="#000">0.1</text>
<text transform="translate(590.23,1314.60) scale(1.0000,1.04)" font-size="29.00" fill="#000">1</text>
<text transform="translate(690.36,1314.60) scale(1.0000,1.04)" font-size="29.00" fill="#000">10</text>
<text transform="translate(217.12,760.20) scale(1.0000,1.04)" font-size="35.50" font-weight="bold" fill="#000">NCI-H2052</text>
<path d="M264.0,856.4 C266.0,856.4 264.8,856.5 275.8,856.6 C286.8,856.7 311.4,856.7 330.0,856.8 C348.6,856.9 370.8,856.9 387.3,857.2 C403.8,857.5 417.5,858.0 429.1,858.6 C440.7,859.2 447.6,859.8 457.0,860.8 C466.4,861.8 475.9,863.0 485.2,864.7 C494.5,866.4 503.9,868.6 512.8,871.1 C521.7,873.6 530.6,876.2 538.5,879.5 C546.4,882.8 553.3,885.7 560.2,890.6 C567.1,895.5 573.8,903.3 579.7,908.8 C585.7,914.3 589.6,918.0 595.9,923.8 C602.2,929.6 610.3,937.0 617.4,943.6 C624.5,950.2 632.0,957.6 638.3,963.1 C644.6,968.6 648.5,972.3 655.0,976.5 C661.5,980.7 668.7,985.0 677.3,988.2 C685.9,991.4 701.7,994.5 706.6,995.8" fill="none" stroke="#F0932D" stroke-width="4.8" stroke-dasharray="12 11" stroke-linecap="round"/>
<path d="M264.0,878.6 C266.0,878.6 264.6,878.5 275.8,878.8 C287.1,879.1 315.0,879.6 331.5,880.6 C348.0,881.6 363.2,883.1 374.8,885.0 C386.4,886.9 392.5,888.8 401.3,891.8 C410.1,894.8 418.5,897.2 427.8,902.8 C437.1,908.4 447.4,917.3 457.0,925.5 C466.6,933.7 475.9,940.9 485.2,952.0 C494.5,963.1 503.9,980.1 512.8,992.4 C521.7,1004.7 532.0,1017.8 538.5,1026.0 C545.0,1034.2 546.8,1035.8 551.8,1041.8 C556.8,1047.8 563.5,1057.1 568.6,1062.1 C573.7,1067.1 577.9,1069.6 582.5,1071.9 C587.1,1074.2 589.5,1075.0 596.5,1076.0 C603.5,1077.0 613.0,1077.4 624.4,1077.7 C635.8,1078.0 651.3,1077.7 665.0,1077.7 C678.7,1077.7 699.7,1077.7 706.6,1077.7" fill="none" stroke="#F0932D" stroke-width="4"/>
<line x1="374.80" y1="842.40" x2="374.80" y2="885.40" stroke="#F0932D" stroke-width="2.8"/>
<line x1="363.30" y1="842.40" x2="386.30" y2="842.40" stroke="#F0932D" stroke-width="2.8" stroke-linecap="round"/>
<line x1="363.30" y1="885.40" x2="386.30" y2="885.40" stroke="#F0932D" stroke-width="2.8" stroke-linecap="round"/>
<line x1="485.20" y1="830.70" x2="485.20" y2="881.10" stroke="#F0932D" stroke-width="2.8"/>
<line x1="473.70" y1="830.70" x2="496.70" y2="830.70" stroke="#F0932D" stroke-width="2.8" stroke-linecap="round"/>
<line x1="473.70" y1="881.10" x2="496.70" y2="881.10" stroke="#F0932D" stroke-width="2.8" stroke-linecap="round"/>
<line x1="595.90" y1="875.30" x2="595.90" y2="972.10" stroke="#F0932D" stroke-width="2.8"/>
<line x1="584.40" y1="875.30" x2="607.40" y2="875.30" stroke="#F0932D" stroke-width="2.8" stroke-linecap="round"/>
<line x1="584.40" y1="972.10" x2="607.40" y2="972.10" stroke="#F0932D" stroke-width="2.8" stroke-linecap="round"/>
<path d="M363.25,852.35 L386.35,875.45 M386.35,852.35 L363.25,875.45" fill="none" stroke="#F0932D" stroke-width="2.5"/>
<rect x="363.25" y="852.35" width="23.10" height="23.10" fill="none" stroke="#F0932D" stroke-width="3.1"/>
<path d="M416.75,824.75 L439.85,847.85 M439.85,824.75 L416.75,847.85" fill="none" stroke="#F0932D" stroke-width="2.5"/>
<rect x="416.75" y="824.75" width="23.10" height="23.10" fill="none" stroke="#F0932D" stroke-width="3.1"/>
<path d="M473.65,844.25 L496.75,867.35 M496.75,844.25 L473.65,867.35" fill="none" stroke="#F0932D" stroke-width="2.5"/>
<rect x="473.65" y="844.25" width="23.10" height="23.10" fill="none" stroke="#F0932D" stroke-width="3.1"/>
<path d="M526.95,879.35 L550.05,902.45 M550.05,879.35 L526.95,902.45" fill="none" stroke="#F0932D" stroke-width="2.5"/>
<rect x="526.95" y="879.35" width="23.10" height="23.10" fill="none" stroke="#F0932D" stroke-width="3.1"/>
<path d="M584.35,912.25 L607.45,935.35 M607.45,912.25 L584.35,935.35" fill="none" stroke="#F0932D" stroke-width="2.5"/>
<rect x="584.35" y="912.25" width="23.10" height="23.10" fill="none" stroke="#F0932D" stroke-width="3.1"/>
<path d="M637.05,954.65 L660.15,977.75 M660.15,954.65 L637.05,977.75" fill="none" stroke="#F0932D" stroke-width="2.5"/>
<rect x="637.05" y="954.65" width="23.10" height="23.10" fill="none" stroke="#F0932D" stroke-width="3.1"/>
<path d="M695.05,985.85 L718.15,1008.95 M718.15,985.85 L695.05,1008.95" fill="none" stroke="#F0932D" stroke-width="2.5"/>
<rect x="695.05" y="985.85" width="23.10" height="23.10" fill="none" stroke="#F0932D" stroke-width="3.1"/>
<line x1="374.80" y1="866.60" x2="374.80" y2="921.30" stroke="#F0932D" stroke-width="2.8"/>
<line x1="363.30" y1="866.60" x2="386.30" y2="866.60" stroke="#F0932D" stroke-width="2.8" stroke-linecap="round"/>
<line x1="363.30" y1="921.30" x2="386.30" y2="921.30" stroke="#F0932D" stroke-width="2.8" stroke-linecap="round"/>
<line x1="427.80" y1="880.00" x2="427.80" y2="928.60" stroke="#F0932D" stroke-width="2.8"/>
<line x1="416.30" y1="880.00" x2="439.30" y2="880.00" stroke="#F0932D" stroke-width="2.8" stroke-linecap="round"/>
<line x1="416.30" y1="928.60" x2="439.30" y2="928.60" stroke="#F0932D" stroke-width="2.8" stroke-linecap="round"/>
<line x1="485.20" y1="935.80" x2="485.20" y2="976.20" stroke="#F0932D" stroke-width="2.8"/>
<line x1="473.70" y1="935.80" x2="496.70" y2="935.80" stroke="#F0932D" stroke-width="2.8" stroke-linecap="round"/>
<line x1="473.70" y1="976.20" x2="496.70" y2="976.20" stroke="#F0932D" stroke-width="2.8" stroke-linecap="round"/>
<line x1="538.50" y1="994.60" x2="538.50" y2="1035.60" stroke="#F0932D" stroke-width="2.8"/>
<line x1="527.00" y1="994.60" x2="550.00" y2="994.60" stroke="#F0932D" stroke-width="2.8" stroke-linecap="round"/>
<line x1="527.00" y1="1035.60" x2="550.00" y2="1035.60" stroke="#F0932D" stroke-width="2.8" stroke-linecap="round"/>
<line x1="595.90" y1="1035.60" x2="595.90" y2="1070.00" stroke="#F0932D" stroke-width="2.8"/>
<line x1="584.40" y1="1035.60" x2="607.40" y2="1035.60" stroke="#F0932D" stroke-width="2.8" stroke-linecap="round"/>
<line x1="584.40" y1="1070.00" x2="607.40" y2="1070.00" stroke="#F0932D" stroke-width="2.8" stroke-linecap="round"/>
<line x1="706.60" y1="1049.60" x2="706.60" y2="1136.90" stroke="#F0932D" stroke-width="2.8"/>
<line x1="695.10" y1="1049.60" x2="718.10" y2="1049.60" stroke="#F0932D" stroke-width="2.8" stroke-linecap="round"/>
<line x1="695.10" y1="1136.90" x2="718.10" y2="1136.90" stroke="#F0932D" stroke-width="2.8" stroke-linecap="round"/>
<circle cx="374.80" cy="894.00" r="12.90" fill="#F0932D"/>
<circle cx="427.80" cy="904.00" r="12.90" fill="#F0932D"/>
<circle cx="485.20" cy="956.20" r="12.90" fill="#F0932D"/>
<circle cx="538.50" cy="1014.70" r="12.90" fill="#F0932D"/>
<circle cx="595.90" cy="1052.40" r="12.90" fill="#F0932D"/>
<circle cx="648.60" cy="1081.10" r="12.90" fill="#F0932D"/>
<circle cx="706.60" cy="1092.80" r="12.90" fill="#F0932D"/>
<rect x="250.70" y="854.20" width="26.80" height="26.80" fill="#F0932D"/>
<line x1="258.90" y1="1168.70" x2="300.90" y2="1168.70" stroke="#F0932D" stroke-width="4" stroke-linecap="round"/>
<circle cx="279.90" cy="1168.70" r="12.80" fill="#F0932D"/>
<line x1="258.90" y1="1222.30" x2="300.90" y2="1222.30" stroke="#F0932D" stroke-width="4" stroke-linecap="round"/>
<path d="M268.85,1210.75 L291.95,1233.85 M291.95,1210.75 L268.85,1233.85" fill="none" stroke="#F0932D" stroke-width="2.5"/>
<rect x="268.85" y="1210.75" width="23.10" height="23.10" fill="none" stroke="#F0932D" stroke-width="3.1"/>
<text transform="translate(323.69,1179.00) scale(1.0000,1.04)" font-size="31.40" fill="#000">TEAD1</text>
<text transform="translate(323.69,1232.90) scale(1.0000,1.04)" font-size="31.40" fill="#000">TEAD4</text>
<text transform="translate(380.69,1368.70) scale(1,1.04)" font-size="36.57" fill="#000" xml:space="preserve"><tspan font-weight="bold">A531</tspan><tspan>, [μM]</tspan></text>
<text transform="translate(310.31,1435.60) scale(1.0000,1.04)" font-size="45.30" font-weight="bold" fill="#F0932D">(ALP2 series)</text>
<line x1="826.80" y1="790.30" x2="826.80" y2="1269.80" stroke="#000" stroke-width="3.0"/>
<line x1="825.30" y1="1268.30" x2="1308.50" y2="1268.30" stroke="#000" stroke-width="3.0"/>
<line x1="810.80" y1="1249.90" x2="826.80" y2="1249.90" stroke="#000" stroke-width="3.0"/>
<text transform="translate(786.73,1260.80) scale(1.0000,1.04)" font-size="32.40" fill="#000">0</text>
<line x1="817.80" y1="1211.75" x2="826.80" y2="1211.75" stroke="#000" stroke-width="3.0"/>
<line x1="810.80" y1="1173.60" x2="826.80" y2="1173.60" stroke="#000" stroke-width="3.0"/>
<text transform="translate(768.75,1184.50) scale(1.0000,1.04)" font-size="32.40" fill="#000">20</text>
<line x1="817.80" y1="1135.45" x2="826.80" y2="1135.45" stroke="#000" stroke-width="3.0"/>
<line x1="810.80" y1="1097.30" x2="826.80" y2="1097.30" stroke="#000" stroke-width="3.0"/>
<text transform="translate(768.75,1108.20) scale(1.0000,1.04)" font-size="32.40" fill="#000">40</text>
<line x1="817.80" y1="1059.15" x2="826.80" y2="1059.15" stroke="#000" stroke-width="3.0"/>
<line x1="810.80" y1="1021.00" x2="826.80" y2="1021.00" stroke="#000" stroke-width="3.0"/>
<text transform="translate(768.75,1031.90) scale(1.0000,1.04)" font-size="32.40" fill="#000">60</text>
<line x1="817.80" y1="982.85" x2="826.80" y2="982.85" stroke="#000" stroke-width="3.0"/>
<line x1="810.80" y1="944.70" x2="826.80" y2="944.70" stroke="#000" stroke-width="3.0"/>
<text transform="translate(768.75,955.60) scale(1.0000,1.04)" font-size="32.40" fill="#000">80</text>
<line x1="817.80" y1="906.55" x2="826.80" y2="906.55" stroke="#000" stroke-width="3.0"/>
<line x1="810.80" y1="868.40" x2="826.80" y2="868.40" stroke="#000" stroke-width="3.0"/>
<text transform="translate(750.69,879.30) scale(1.0000,1.04)" font-size="32.40" fill="#000">100</text>
<line x1="817.80" y1="830.25" x2="826.80" y2="830.25" stroke="#000" stroke-width="3.0"/>
<line x1="810.80" y1="792.10" x2="826.80" y2="792.10" stroke="#000" stroke-width="3.0"/>
<text transform="translate(750.69,803.00) scale(1.0000,1.04)" font-size="32.40" fill="#000">120</text>
<line x1="857.10" y1="1268.30" x2="857.10" y2="1284.80" stroke="#000" stroke-width="3.0"/>
<line x1="946.50" y1="1268.30" x2="946.50" y2="1284.80" stroke="#000" stroke-width="3.0"/>
<line x1="1036.10" y1="1268.30" x2="1036.10" y2="1284.80" stroke="#000" stroke-width="3.0"/>
<line x1="1126.00" y1="1268.30" x2="1126.00" y2="1284.80" stroke="#000" stroke-width="3.0"/>
<line x1="1216.00" y1="1268.30" x2="1216.00" y2="1284.80" stroke="#000" stroke-width="3.0"/>
<line x1="1306.30" y1="1268.30" x2="1306.30" y2="1284.80" stroke="#000" stroke-width="3.0"/>
<line x1="830.00" y1="1268.30" x2="830.00" y2="1277.80" stroke="#000" stroke-width="3.0"/>
<line x1="923.00" y1="1268.30" x2="923.00" y2="1277.80" stroke="#000" stroke-width="3.0"/>
<line x1="1012.70" y1="1268.30" x2="1012.70" y2="1277.80" stroke="#000" stroke-width="3.0"/>
<line x1="1102.60" y1="1268.30" x2="1102.60" y2="1277.80" stroke="#000" stroke-width="3.0"/>
<line x1="1192.90" y1="1268.30" x2="1192.90" y2="1277.80" stroke="#000" stroke-width="3.0"/>
<line x1="1282.80" y1="1268.30" x2="1282.80" y2="1277.80" stroke="#000" stroke-width="3.0"/>
<text transform="translate(813.65,1314.90) scale(1.0000,1.04)" font-size="29.00" fill="#000">0.0001</text>
<text transform="translate(912.25,1314.90) scale(1.0000,1.04)" font-size="29.00" fill="#000">0.001</text>
<text transform="translate(1009.93,1314.90) scale(1.0000,1.04)" font-size="29.00" fill="#000">0.01</text>
<text transform="translate(1107.53,1314.90) scale(1.0000,1.04)" font-size="29.00" fill="#000">0.1</text>
<text transform="translate(1209.38,1314.90) scale(1.0000,1.04)" font-size="29.00" fill="#000">1</text>
<text transform="translate(1289.61,1314.90) scale(1.0000,1.04)" font-size="29.00" fill="#000">10</text>
<text transform="translate(815.67,760.60) scale(1.0000,1.04)" font-size="35.50" font-weight="bold" fill="#000">NCI-H2052</text>
<path d="M855.9,865.2 C869.9,865.2 909.9,865.2 940.0,865.3 C970.1,865.3 1013.5,865.2 1036.7,865.5 C1059.9,865.8 1067.3,866.2 1079.2,866.8 C1091.1,867.4 1100.1,868.2 1107.9,869.0 C1115.7,869.8 1119.2,870.3 1126.0,871.5 C1132.8,872.7 1141.4,874.5 1148.5,876.2 C1155.6,877.9 1161.5,879.2 1168.8,881.5 C1176.1,883.8 1184.4,887.7 1192.3,890.2 C1200.2,892.7 1209.2,894.8 1216.0,896.5 C1222.8,898.2 1225.8,899.3 1232.9,900.5 C1240.0,901.7 1251.0,903.0 1258.8,903.6 C1266.6,904.2 1271.8,904.3 1279.7,904.3 C1287.6,904.3 1301.9,903.7 1306.3,903.6" fill="none" stroke="#4DA6DC" stroke-width="4.8" stroke-dasharray="12 11" stroke-linecap="round"/>
<path d="M855.9,890.5 C863.2,890.5 884.9,890.6 900.0,890.7 C915.1,890.8 932.7,890.5 946.5,891.2 C960.3,891.9 971.7,893.1 983.0,894.9 C994.3,896.7 1005.2,899.3 1014.2,901.8 C1023.2,904.3 1028.9,905.3 1036.7,909.9 C1044.5,914.5 1054.0,922.9 1061.1,929.3 C1068.2,935.6 1073.0,940.7 1079.2,948.0 C1085.5,955.3 1092.8,965.2 1098.6,973.0 C1104.4,980.8 1109.6,989.1 1114.2,994.8 C1118.8,1000.5 1121.8,1003.4 1126.0,1007.3 C1130.2,1011.2 1134.9,1015.4 1139.2,1018.3 C1143.5,1021.2 1146.8,1023.0 1151.7,1024.5 C1156.6,1026.0 1163.1,1027.0 1168.8,1027.6 C1174.5,1028.2 1174.1,1027.9 1186.0,1028.0 C1197.9,1028.1 1220.0,1028.0 1240.0,1028.0 C1260.0,1028.0 1295.2,1028.0 1306.3,1028.0" fill="none" stroke="#4DA6DC" stroke-width="4"/>
<line x1="946.50" y1="851.80" x2="946.50" y2="885.00" stroke="#4DA6DC" stroke-width="2.8"/>
<line x1="935.00" y1="851.80" x2="958.00" y2="851.80" stroke="#4DA6DC" stroke-width="2.8" stroke-linecap="round"/>
<line x1="935.00" y1="885.00" x2="958.00" y2="885.00" stroke="#4DA6DC" stroke-width="2.8" stroke-linecap="round"/>
<line x1="1036.70" y1="834.90" x2="1036.70" y2="946.00" stroke="#4DA6DC" stroke-width="2.8"/>
<line x1="1025.20" y1="834.90" x2="1048.20" y2="834.90" stroke="#4DA6DC" stroke-width="2.8" stroke-linecap="round"/>
<line x1="1025.20" y1="946.00" x2="1048.20" y2="946.00" stroke="#4DA6DC" stroke-width="2.8" stroke-linecap="round"/>
<line x1="1079.20" y1="821.80" x2="1079.20" y2="892.40" stroke="#4DA6DC" stroke-width="2.8"/>
<line x1="1067.70" y1="821.80" x2="1090.70" y2="821.80" stroke="#4DA6DC" stroke-width="2.8" stroke-linecap="round"/>
<line x1="1067.70" y1="892.40" x2="1090.70" y2="892.40" stroke="#4DA6DC" stroke-width="2.8" stroke-linecap="round"/>
<line x1="1126.00" y1="819.00" x2="1126.00" y2="874.90" stroke="#4DA6DC" stroke-width="2.8"/>
<line x1="1114.50" y1="819.00" x2="1137.50" y2="819.00" stroke="#4DA6DC" stroke-width="2.8" stroke-linecap="round"/>
<line x1="1114.50" y1="874.90" x2="1137.50" y2="874.90" stroke="#4DA6DC" stroke-width="2.8" stroke-linecap="round"/>
<line x1="1168.80" y1="861.20" x2="1168.80" y2="898.70" stroke="#4DA6DC" stroke-width="2.8"/>
<line x1="1157.30" y1="861.20" x2="1180.30" y2="861.20" stroke="#4DA6DC" stroke-width="2.8" stroke-linecap="round"/>
<line x1="1157.30" y1="898.70" x2="1180.30" y2="898.70" stroke="#4DA6DC" stroke-width="2.8" stroke-linecap="round"/>
<line x1="1216.00" y1="872.40" x2="1216.00" y2="919.90" stroke="#4DA6DC" stroke-width="2.8"/>
<line x1="1204.50" y1="872.40" x2="1227.50" y2="872.40" stroke="#4DA6DC" stroke-width="2.8" stroke-linecap="round"/>
<line x1="1204.50" y1="919.90" x2="1227.50" y2="919.90" stroke="#4DA6DC" stroke-width="2.8" stroke-linecap="round"/>
<line x1="1258.80" y1="906.00" x2="1258.80" y2="940.20" stroke="#4DA6DC" stroke-width="2.8"/>
<line x1="1247.30" y1="906.00" x2="1270.30" y2="906.00" stroke="#4DA6DC" stroke-width="2.8" stroke-linecap="round"/>
<line x1="1247.30" y1="940.20" x2="1270.30" y2="940.20" stroke="#4DA6DC" stroke-width="2.8" stroke-linecap="round"/>
<line x1="1306.30" y1="863.70" x2="1306.30" y2="904.90" stroke="#4DA6DC" stroke-width="2.8"/>
<line x1="1294.80" y1="863.70" x2="1317.80" y2="863.70" stroke="#4DA6DC" stroke-width="2.8" stroke-linecap="round"/>
<line x1="1294.80" y1="904.90" x2="1317.80" y2="904.90" stroke="#4DA6DC" stroke-width="2.8" stroke-linecap="round"/>
<path d="M934.95,856.85 L958.05,879.95 M958.05,856.85 L934.95,879.95" fill="none" stroke="#4DA6DC" stroke-width="2.5"/>
<rect x="934.95" y="856.85" width="23.10" height="23.10" fill="none" stroke="#4DA6DC" stroke-width="3.1"/>
<path d="M1025.15,878.95 L1048.25,902.05 M1048.25,878.95 L1025.15,902.05" fill="none" stroke="#4DA6DC" stroke-width="2.5"/>
<rect x="1025.15" y="878.95" width="23.10" height="23.10" fill="none" stroke="#4DA6DC" stroke-width="3.1"/>
<path d="M1067.65,844.95 L1090.75,868.05 M1090.75,844.95 L1067.65,868.05" fill="none" stroke="#4DA6DC" stroke-width="2.5"/>
<rect x="1067.65" y="844.95" width="23.10" height="23.10" fill="none" stroke="#4DA6DC" stroke-width="3.1"/>
<path d="M1114.45,835.85 L1137.55,858.95 M1137.55,835.85 L1114.45,858.95" fill="none" stroke="#4DA6DC" stroke-width="2.5"/>
<rect x="1114.45" y="835.85" width="23.10" height="23.10" fill="none" stroke="#4DA6DC" stroke-width="3.1"/>
<path d="M1157.25,868.35 L1180.35,891.45 M1180.35,868.35 L1157.25,891.45" fill="none" stroke="#4DA6DC" stroke-width="2.5"/>
<rect x="1157.25" y="868.35" width="23.10" height="23.10" fill="none" stroke="#4DA6DC" stroke-width="3.1"/>
<path d="M1204.45,884.25 L1227.55,907.35 M1227.55,884.25 L1204.45,907.35" fill="none" stroke="#4DA6DC" stroke-width="2.5"/>
<rect x="1204.45" y="884.25" width="23.10" height="23.10" fill="none" stroke="#4DA6DC" stroke-width="3.1"/>
<path d="M1247.25,911.45 L1270.35,934.55 M1270.35,911.45 L1247.25,934.55" fill="none" stroke="#4DA6DC" stroke-width="2.5"/>
<rect x="1247.25" y="911.45" width="23.10" height="23.10" fill="none" stroke="#4DA6DC" stroke-width="3.1"/>
<path d="M1294.75,872.45 L1317.85,895.55 M1317.85,872.45 L1294.75,895.55" fill="none" stroke="#4DA6DC" stroke-width="2.5"/>
<rect x="1294.75" y="872.45" width="23.10" height="23.10" fill="none" stroke="#4DA6DC" stroke-width="3.1"/>
<line x1="946.50" y1="851.80" x2="946.50" y2="933.60" stroke="#4DA6DC" stroke-width="2.8"/>
<line x1="935.00" y1="851.80" x2="958.00" y2="851.80" stroke="#4DA6DC" stroke-width="2.8" stroke-linecap="round"/>
<line x1="935.00" y1="933.60" x2="958.00" y2="933.60" stroke="#4DA6DC" stroke-width="2.8" stroke-linecap="round"/>
<line x1="1036.10" y1="916.80" x2="1036.10" y2="965.50" stroke="#4DA6DC" stroke-width="2.8"/>
<line x1="1024.60" y1="916.80" x2="1047.60" y2="916.80" stroke="#4DA6DC" stroke-width="2.8" stroke-linecap="round"/>
<line x1="1024.60" y1="965.50" x2="1047.60" y2="965.50" stroke="#4DA6DC" stroke-width="2.8" stroke-linecap="round"/>
<line x1="1126.00" y1="977.70" x2="1126.00" y2="1043.90" stroke="#4DA6DC" stroke-width="2.8"/>
<line x1="1114.50" y1="977.70" x2="1137.50" y2="977.70" stroke="#4DA6DC" stroke-width="2.8" stroke-linecap="round"/>
<line x1="1114.50" y1="1043.90" x2="1137.50" y2="1043.90" stroke="#4DA6DC" stroke-width="2.8" stroke-linecap="round"/>
<line x1="1168.80" y1="986.10" x2="1168.80" y2="1046.70" stroke="#4DA6DC" stroke-width="2.8"/>
<line x1="1157.30" y1="986.10" x2="1180.30" y2="986.10" stroke="#4DA6DC" stroke-width="2.8" stroke-linecap="round"/>
<line x1="1157.30" y1="1046.70" x2="1180.30" y2="1046.70" stroke="#4DA6DC" stroke-width="2.8" stroke-linecap="round"/>
<line x1="1216.00" y1="982.40" x2="1216.00" y2="1049.50" stroke="#4DA6DC" stroke-width="2.8"/>
<line x1="1204.50" y1="982.40" x2="1227.50" y2="982.40" stroke="#4DA6DC" stroke-width="2.8" stroke-linecap="round"/>
<line x1="1204.50" y1="1049.50" x2="1227.50" y2="1049.50" stroke="#4DA6DC" stroke-width="2.8" stroke-linecap="round"/>
<line x1="1258.80" y1="1043.90" x2="1258.80" y2="1074.80" stroke="#4DA6DC" stroke-width="2.8"/>
<line x1="1247.30" y1="1043.90" x2="1270.30" y2="1043.90" stroke="#4DA6DC" stroke-width="2.8" stroke-linecap="round"/>
<line x1="1247.30" y1="1074.80" x2="1270.30" y2="1074.80" stroke="#4DA6DC" stroke-width="2.8" stroke-linecap="round"/>
<line x1="1306.30" y1="971.70" x2="1306.30" y2="1069.20" stroke="#4DA6DC" stroke-width="2.8"/>
<line x1="1294.80" y1="971.70" x2="1317.80" y2="971.70" stroke="#4DA6DC" stroke-width="2.8" stroke-linecap="round"/>
<line x1="1294.80" y1="1069.20" x2="1317.80" y2="1069.20" stroke="#4DA6DC" stroke-width="2.8" stroke-linecap="round"/>
<circle cx="946.50" cy="892.70" r="12.90" fill="#4DA6DC"/>
<circle cx="1036.10" cy="941.10" r="12.90" fill="#4DA6DC"/>
<circle cx="1078.90" cy="915.20" r="12.90" fill="#4DA6DC"/>
<circle cx="1126.00" cy="1010.50" r="12.90" fill="#4DA6DC"/>
<circle cx="1168.80" cy="1015.10" r="12.90" fill="#4DA6DC"/>
<circle cx="1216.00" cy="1015.10" r="12.90" fill="#4DA6DC"/>
<circle cx="1258.80" cy="1059.50" r="12.90" fill="#4DA6DC"/>
<circle cx="1306.30" cy="1020.50" r="12.90" fill="#4DA6DC"/>
<circle cx="855.90" cy="868.70" r="12.90" fill="#4DA6DC"/>
<line x1="855.20" y1="1167.10" x2="897.20" y2="1167.10" stroke="#4DA6DC" stroke-width="4" stroke-linecap="round"/>
<circle cx="876.20" cy="1167.10" r="12.80" fill="#4DA6DC"/>
<line x1="855.20" y1="1222.10" x2="897.20" y2="1222.10" stroke="#4DA6DC" stroke-width="4" stroke-linecap="round"/>
<path d="M865.15,1210.55 L888.25,1233.65 M888.25,1210.55 L865.15,1233.65" fill="none" stroke="#4DA6DC" stroke-width="2.5"/>
<rect x="865.15" y="1210.55" width="23.10" height="23.10" fill="none" stroke="#4DA6DC" stroke-width="3.1"/>
<text transform="translate(920.49,1177.40) scale(1.0000,1.04)" font-size="31.40" fill="#000">TEAD1</text>
<text transform="translate(920.49,1232.10) scale(1.0000,1.04)" font-size="31.40" fill="#000">TEAD4</text>
<text transform="translate(978.98,1370.50) scale(1,1.04)" font-size="36.96" fill="#000" xml:space="preserve"><tspan font-weight="bold">A538</tspan><tspan>, [μM]</tspan></text>
<text transform="translate(930.33,1436.00) scale(1.0000,1.04)" font-size="45.30" font-weight="bold" fill="#4DA6DC">(XB2 series)</text>
<line x1="1423.00" y1="787.10" x2="1423.00" y2="1271.60" stroke="#000" stroke-width="3.0"/>
<line x1="1421.50" y1="1270.10" x2="1906.80" y2="1270.10" stroke="#000" stroke-width="3.0"/>
<line x1="1407.00" y1="1251.30" x2="1423.00" y2="1251.30" stroke="#000" stroke-width="3.0"/>
<text transform="translate(1383.73,1262.20) scale(1.0000,1.04)" font-size="32.40" fill="#000">0</text>
<line x1="1414.00" y1="1212.76" x2="1423.00" y2="1212.76" stroke="#000" stroke-width="3.0"/>
<line x1="1407.00" y1="1174.22" x2="1423.00" y2="1174.22" stroke="#000" stroke-width="3.0"/>
<text transform="translate(1365.75,1185.12) scale(1.0000,1.04)" font-size="32.40" fill="#000">20</text>
<line x1="1414.00" y1="1135.68" x2="1423.00" y2="1135.68" stroke="#000" stroke-width="3.0"/>
<line x1="1407.00" y1="1097.14" x2="1423.00" y2="1097.14" stroke="#000" stroke-width="3.0"/>
<text transform="translate(1365.75,1108.04) scale(1.0000,1.04)" font-size="32.40" fill="#000">40</text>
<line x1="1414.00" y1="1058.60" x2="1423.00" y2="1058.60" stroke="#000" stroke-width="3.0"/>
<line x1="1407.00" y1="1020.06" x2="1423.00" y2="1020.06" stroke="#000" stroke-width="3.0"/>
<text transform="translate(1365.75,1030.96) scale(1.0000,1.04)" font-size="32.40" fill="#000">60</text>
<line x1="1414.00" y1="981.52" x2="1423.00" y2="981.52" stroke="#000" stroke-width="3.0"/>
<line x1="1407.00" y1="942.98" x2="1423.00" y2="942.98" stroke="#000" stroke-width="3.0"/>
<text transform="translate(1365.75,953.88) scale(1.0000,1.04)" font-size="32.40" fill="#000">80</text>
<line x1="1414.00" y1="904.44" x2="1423.00" y2="904.44" stroke="#000" stroke-width="3.0"/>
<line x1="1407.00" y1="865.90" x2="1423.00" y2="865.90" stroke="#000" stroke-width="3.0"/>
<text transform="translate(1347.69,876.80) scale(1.0000,1.04)" font-size="32.40" fill="#000">100</text>
<line x1="1414.00" y1="827.36" x2="1423.00" y2="827.36" stroke="#000" stroke-width="3.0"/>
<line x1="1407.00" y1="788.82" x2="1423.00" y2="788.82" stroke="#000" stroke-width="3.0"/>
<text transform="translate(1347.69,799.72) scale(1.0000,1.04)" font-size="32.40" fill="#000">120</text>
<line x1="1457.10" y1="1270.10" x2="1457.10" y2="1286.60" stroke="#000" stroke-width="3.0"/>
<line x1="1569.20" y1="1270.10" x2="1569.20" y2="1286.60" stroke="#000" stroke-width="3.0"/>
<line x1="1680.70" y1="1270.10" x2="1680.70" y2="1286.60" stroke="#000" stroke-width="3.0"/>
<line x1="1792.40" y1="1270.10" x2="1792.40" y2="1286.60" stroke="#000" stroke-width="3.0"/>
<line x1="1904.90" y1="1270.10" x2="1904.90" y2="1286.60" stroke="#000" stroke-width="3.0"/>
<line x1="1427.70" y1="1270.10" x2="1427.70" y2="1279.60" stroke="#000" stroke-width="3.0"/>
<line x1="1540.10" y1="1270.10" x2="1540.10" y2="1279.60" stroke="#000" stroke-width="3.0"/>
<line x1="1651.90" y1="1270.10" x2="1651.90" y2="1279.60" stroke="#000" stroke-width="3.0"/>
<line x1="1763.70" y1="1270.10" x2="1763.70" y2="1279.60" stroke="#000" stroke-width="3.0"/>
<line x1="1875.40" y1="1270.10" x2="1875.40" y2="1279.60" stroke="#000" stroke-width="3.0"/>
<text transform="translate(1423.05,1316.90) scale(1.0000,1.04)" font-size="29.00" fill="#000">0.001</text>
<text transform="translate(1542.73,1316.90) scale(1.0000,1.04)" font-size="29.00" fill="#000">0.01</text>
<text transform="translate(1662.38,1316.90) scale(1.0000,1.04)" font-size="29.00" fill="#000">0.1</text>
<text transform="translate(1786.43,1316.90) scale(1.0000,1.04)" font-size="29.00" fill="#000">1</text>
<text transform="translate(1888.41,1316.90) scale(1.0000,1.04)" font-size="29.00" fill="#000">10</text>
<text transform="translate(1409.87,756.80) scale(1.0000,1.04)" font-size="35.50" font-weight="bold" fill="#000">NCI-H2052</text>
<path d="M1457.1,867.5 C1459.3,867.5 1460.0,867.6 1470.5,867.6 C1481.0,867.6 1503.5,867.7 1520.0,867.7 C1536.5,867.8 1552.1,867.5 1569.2,867.9 C1586.3,868.3 1607.5,869.0 1622.8,869.9 C1638.1,870.8 1651.5,872.3 1661.2,873.3 C1671.0,874.3 1673.5,874.7 1681.3,875.9 C1689.1,877.1 1699.2,878.7 1708.1,880.6 C1717.0,882.5 1726.0,884.6 1734.9,887.3 C1743.8,890.0 1752.0,892.8 1761.6,896.7 C1771.2,900.6 1783.5,905.6 1792.4,910.7 C1801.3,915.8 1808.6,922.5 1815.2,927.5 C1821.8,932.5 1826.8,937.3 1831.9,940.9 C1837.0,944.5 1839.9,946.7 1846.0,949.2 C1852.1,951.7 1861.6,954.3 1868.7,955.9 C1875.8,957.5 1882.8,958.0 1888.8,958.6 C1894.8,959.2 1902.2,959.4 1904.9,959.6" fill="none" stroke="#3C9E3E" stroke-width="4.8" stroke-dasharray="12 11" stroke-linecap="round"/>
<path d="M1457.1,870.6 C1459.3,870.7 1462.1,870.8 1470.5,871.3 C1478.9,871.8 1495.6,872.8 1507.3,873.9 C1519.0,875.0 1530.5,876.4 1540.8,878.0 C1551.1,879.6 1560.3,881.2 1569.2,883.3 C1578.1,885.4 1585.4,887.4 1594.3,890.7 C1603.2,894.1 1615.0,899.0 1622.8,903.4 C1630.6,907.8 1634.8,911.7 1641.2,917.4 C1647.6,923.1 1654.5,930.2 1661.2,937.5 C1667.9,944.8 1674.6,952.0 1681.3,960.9 C1688.0,969.8 1695.3,981.9 1701.4,991.1 C1707.5,1000.3 1712.5,1008.7 1718.1,1016.2 C1723.7,1023.7 1729.9,1030.6 1734.9,1036.2 C1739.9,1041.8 1743.8,1046.1 1748.3,1049.6 C1752.8,1053.1 1756.6,1055.3 1761.6,1057.3 C1766.6,1059.2 1771.7,1060.4 1778.4,1061.3 C1785.1,1062.2 1789.9,1062.5 1801.8,1062.7 C1813.7,1062.9 1832.8,1062.7 1850.0,1062.7 C1867.2,1062.7 1895.8,1062.7 1904.9,1062.7" fill="none" stroke="#3C9E3E" stroke-width="4"/>
<line x1="1569.20" y1="848.80" x2="1569.20" y2="944.20" stroke="#3C9E3E" stroke-width="2.8"/>
<line x1="1557.70" y1="848.80" x2="1580.70" y2="848.80" stroke="#3C9E3E" stroke-width="2.8" stroke-linecap="round"/>
<line x1="1557.70" y1="944.20" x2="1580.70" y2="944.20" stroke="#3C9E3E" stroke-width="2.8" stroke-linecap="round"/>
<line x1="1622.80" y1="841.50" x2="1622.80" y2="902.40" stroke="#3C9E3E" stroke-width="2.8"/>
<line x1="1611.30" y1="841.50" x2="1634.30" y2="841.50" stroke="#3C9E3E" stroke-width="2.8" stroke-linecap="round"/>
<line x1="1611.30" y1="902.40" x2="1634.30" y2="902.40" stroke="#3C9E3E" stroke-width="2.8" stroke-linecap="round"/>
<line x1="1681.30" y1="815.70" x2="1681.30" y2="868.20" stroke="#3C9E3E" stroke-width="2.8"/>
<line x1="1669.80" y1="815.70" x2="1692.80" y2="815.70" stroke="#3C9E3E" stroke-width="2.8" stroke-linecap="round"/>
<line x1="1669.80" y1="868.20" x2="1692.80" y2="868.20" stroke="#3C9E3E" stroke-width="2.8" stroke-linecap="round"/>
<line x1="1734.90" y1="872.30" x2="1734.90" y2="902.40" stroke="#3C9E3E" stroke-width="2.8"/>
<line x1="1723.40" y1="872.30" x2="1746.40" y2="872.30" stroke="#3C9E3E" stroke-width="2.8" stroke-linecap="round"/>
<line x1="1723.40" y1="902.40" x2="1746.40" y2="902.40" stroke="#3C9E3E" stroke-width="2.8" stroke-linecap="round"/>
<line x1="1792.40" y1="893.00" x2="1792.40" y2="921.80" stroke="#3C9E3E" stroke-width="2.8"/>
<line x1="1780.90" y1="893.00" x2="1803.90" y2="893.00" stroke="#3C9E3E" stroke-width="2.8" stroke-linecap="round"/>
<line x1="1780.90" y1="921.80" x2="1803.90" y2="921.80" stroke="#3C9E3E" stroke-width="2.8" stroke-linecap="round"/>
<line x1="1846.00" y1="932.50" x2="1846.00" y2="991.00" stroke="#3C9E3E" stroke-width="2.8"/>
<line x1="1834.50" y1="932.50" x2="1857.50" y2="932.50" stroke="#3C9E3E" stroke-width="2.8" stroke-linecap="round"/>
<line x1="1834.50" y1="991.00" x2="1857.50" y2="991.00" stroke="#3C9E3E" stroke-width="2.8" stroke-linecap="round"/>
<line x1="1904.90" y1="909.40" x2="1904.90" y2="992.70" stroke="#3C9E3E" stroke-width="2.8"/>
<line x1="1893.40" y1="909.40" x2="1916.40" y2="909.40" stroke="#3C9E3E" stroke-width="2.8" stroke-linecap="round"/>
<line x1="1893.40" y1="992.70" x2="1916.40" y2="992.70" stroke="#3C9E3E" stroke-width="2.8" stroke-linecap="round"/>
<path d="M1557.65,885.15 L1580.75,908.25 M1580.75,885.15 L1557.65,908.25" fill="none" stroke="#3C9E3E" stroke-width="2.5"/>
<rect x="1557.65" y="885.15" width="23.10" height="23.10" fill="none" stroke="#3C9E3E" stroke-width="3.1"/>
<path d="M1611.25,862.35 L1634.35,885.45 M1634.35,862.35 L1611.25,885.45" fill="none" stroke="#3C9E3E" stroke-width="2.5"/>
<rect x="1611.25" y="862.35" width="23.10" height="23.10" fill="none" stroke="#3C9E3E" stroke-width="3.1"/>
<path d="M1669.75,830.55 L1692.85,853.65 M1692.85,830.55 L1669.75,853.65" fill="none" stroke="#3C9E3E" stroke-width="2.5"/>
<rect x="1669.75" y="830.55" width="23.10" height="23.10" fill="none" stroke="#3C9E3E" stroke-width="3.1"/>
<path d="M1723.35,875.75 L1746.45,898.85 M1746.45,875.75 L1723.35,898.85" fill="none" stroke="#3C9E3E" stroke-width="2.5"/>
<rect x="1723.35" y="875.75" width="23.10" height="23.10" fill="none" stroke="#3C9E3E" stroke-width="3.1"/>
<path d="M1780.85,895.85 L1803.95,918.95 M1803.95,895.85 L1780.85,918.95" fill="none" stroke="#3C9E3E" stroke-width="2.5"/>
<rect x="1780.85" y="895.85" width="23.10" height="23.10" fill="none" stroke="#3C9E3E" stroke-width="3.1"/>
<path d="M1834.45,950.05 L1857.55,973.15 M1857.55,950.05 L1834.45,973.15" fill="none" stroke="#3C9E3E" stroke-width="2.5"/>
<rect x="1834.45" y="950.05" width="23.10" height="23.10" fill="none" stroke="#3C9E3E" stroke-width="3.1"/>
<path d="M1893.35,939.35 L1916.45,962.45 M1916.45,939.35 L1893.35,962.45" fill="none" stroke="#3C9E3E" stroke-width="2.5"/>
<rect x="1893.35" y="939.35" width="23.10" height="23.10" fill="none" stroke="#3C9E3E" stroke-width="3.1"/>
<line x1="1622.80" y1="903.00" x2="1622.80" y2="929.80" stroke="#3C9E3E" stroke-width="2.8"/>
<line x1="1611.30" y1="903.00" x2="1634.30" y2="903.00" stroke="#3C9E3E" stroke-width="2.8" stroke-linecap="round"/>
<line x1="1611.30" y1="929.80" x2="1634.30" y2="929.80" stroke="#3C9E3E" stroke-width="2.8" stroke-linecap="round"/>
<line x1="1681.30" y1="914.10" x2="1681.30" y2="971.60" stroke="#3C9E3E" stroke-width="2.8"/>
<line x1="1669.80" y1="914.10" x2="1692.80" y2="914.10" stroke="#3C9E3E" stroke-width="2.8" stroke-linecap="round"/>
<line x1="1669.80" y1="971.60" x2="1692.80" y2="971.60" stroke="#3C9E3E" stroke-width="2.8" stroke-linecap="round"/>
<line x1="1734.90" y1="1035.60" x2="1734.90" y2="1063.70" stroke="#3C9E3E" stroke-width="2.8"/>
<line x1="1723.40" y1="1035.60" x2="1746.40" y2="1035.60" stroke="#3C9E3E" stroke-width="2.8" stroke-linecap="round"/>
<line x1="1723.40" y1="1063.70" x2="1746.40" y2="1063.70" stroke="#3C9E3E" stroke-width="2.8" stroke-linecap="round"/>
<line x1="1792.40" y1="991.00" x2="1792.40" y2="1093.10" stroke="#3C9E3E" stroke-width="2.8"/>
<line x1="1780.90" y1="991.00" x2="1803.90" y2="991.00" stroke="#3C9E3E" stroke-width="2.8" stroke-linecap="round"/>
<line x1="1780.90" y1="1093.10" x2="1803.90" y2="1093.10" stroke="#3C9E3E" stroke-width="2.8" stroke-linecap="round"/>
<line x1="1846.00" y1="1003.80" x2="1846.00" y2="1132.40" stroke="#3C9E3E" stroke-width="2.8"/>
<line x1="1834.50" y1="1003.80" x2="1857.50" y2="1003.80" stroke="#3C9E3E" stroke-width="2.8" stroke-linecap="round"/>
<line x1="1834.50" y1="1132.40" x2="1857.50" y2="1132.40" stroke="#3C9E3E" stroke-width="2.8" stroke-linecap="round"/>
<circle cx="1569.20" cy="886.30" r="12.90" fill="#3C9E3E"/>
<circle cx="1622.80" cy="915.80" r="12.90" fill="#3C9E3E"/>
<circle cx="1681.30" cy="942.50" r="12.90" fill="#3C9E3E"/>
<circle cx="1734.90" cy="1049.60" r="12.90" fill="#3C9E3E"/>
<circle cx="1792.40" cy="1041.90" r="12.90" fill="#3C9E3E"/>
<circle cx="1846.00" cy="1068.00" r="12.90" fill="#3C9E3E"/>
<circle cx="1904.90" cy="1068.70" r="12.90" fill="#3C9E3E"/>
<rect x="1443.70" y="852.80" width="26.80" height="26.80" fill="#3C9E3E"/>
<line x1="1452.20" y1="1170.40" x2="1494.20" y2="1170.40" stroke="#3C9E3E" stroke-width="4" stroke-linecap="round"/>
<circle cx="1473.20" cy="1170.40" r="12.80" fill="#3C9E3E"/>
<line x1="1452.20" y1="1225.60" x2="1494.20" y2="1225.60" stroke="#3C9E3E" stroke-width="4" stroke-linecap="round"/>
<path d="M1462.15,1214.05 L1485.25,1237.15 M1485.25,1214.05 L1462.15,1237.15" fill="none" stroke="#3C9E3E" stroke-width="2.5"/>
<rect x="1462.15" y="1214.05" width="23.10" height="23.10" fill="none" stroke="#3C9E3E" stroke-width="3.1"/>
<text transform="translate(1519.99,1180.40) scale(1.0000,1.04)" font-size="31.40" fill="#000">TEAD1</text>
<text transform="translate(1519.99,1235.60) scale(1.0000,1.04)" font-size="31.40" fill="#000">TEAD4</text>
<text transform="translate(1574.97,1369.50) scale(1,1.04)" font-size="37.19" fill="#000" xml:space="preserve"><tspan font-weight="bold">A536</tspan><tspan>, [μM]</tspan></text>
<text transform="translate(1506.91,1434.70) scale(1.0000,1.04)" font-size="45.30" font-weight="bold" fill="#3C9E3E">(ALP2 series)</text>
<text transform="translate(90.40,1292.89) rotate(-90) scale(1.0000,1.04)" font-size="36.74" fill="#000">% Endogenous TEAD remaining</text>
<text transform="translate(134.00,1263.29) rotate(-90) scale(1.0000,1.04)" font-size="36.65" fill="#000">(normalised to DMSO control)</text>
<text transform="translate(172.63,1584.60) scale(1.0000,1.04)" font-size="35.90" font-weight="bold" fill="#000">NCI-H226</text>
<line x1="163.00" y1="1611.05" x2="163.00" y2="2183.75" stroke="#000" stroke-width="2.7"/>
<line x1="140.50" y1="2182.40" x2="948.00" y2="2182.40" stroke="#000" stroke-width="2.7"/>
<line x1="140.50" y1="2068.40" x2="163.00" y2="2068.40" stroke="#000" stroke-width="2.7"/>
<line x1="140.50" y1="1954.40" x2="163.00" y2="1954.40" stroke="#000" stroke-width="2.7"/>
<line x1="140.50" y1="1840.40" x2="163.00" y2="1840.40" stroke="#000" stroke-width="2.7"/>
<line x1="140.50" y1="1726.40" x2="163.00" y2="1726.40" stroke="#000" stroke-width="2.7"/>
<line x1="140.50" y1="1612.40" x2="163.00" y2="1612.40" stroke="#000" stroke-width="2.7"/>
<text transform="translate(114.13,2193.40) scale(1.0000,1.04)" font-size="32.40" fill="#000">0</text>
<text transform="translate(96.15,2079.40) scale(1.0000,1.04)" font-size="32.40" fill="#000">20</text>
<text transform="translate(96.15,1965.40) scale(1.0000,1.04)" font-size="32.40" fill="#000">40</text>
<text transform="translate(96.15,1851.40) scale(1.0000,1.04)" font-size="32.40" fill="#000">60</text>
<text transform="translate(96.15,1737.40) scale(1.0000,1.04)" font-size="32.40" fill="#000">80</text>
<text transform="translate(78.09,1623.40) scale(1.0000,1.04)" font-size="32.40" fill="#000">100</text>
<line x1="255.20" y1="2182.40" x2="255.20" y2="2205.30" stroke="#000" stroke-width="2.7"/>
<line x1="454.50" y1="2182.40" x2="454.50" y2="2205.30" stroke="#000" stroke-width="2.7"/>
<line x1="654.80" y1="2182.40" x2="654.80" y2="2205.30" stroke="#000" stroke-width="2.7"/>
<line x1="854.50" y1="2182.40" x2="854.50" y2="2205.30" stroke="#000" stroke-width="2.7"/>
<text transform="translate(76.20,1989.61) rotate(-90) scale(1.0000,1.04)" font-size="38.91" fill="#000">Dmax (%)</text>
<text transform="translate(203.78,2247.20) scale(1.0117,1.04)" font-size="40.40" font-weight="bold" fill="#000">A531</text>
<text transform="translate(407.39,2247.20) scale(1.0007,1.04)" font-size="40.40" font-weight="bold" fill="#000">A538</text>
<text transform="translate(606.59,2247.20) scale(1.0028,1.04)" font-size="40.40" font-weight="bold" fill="#000">A536</text>
<text transform="translate(765.70,2247.20) scale(0.9913,1.04)" font-size="40.40" font-weight="bold" fill="#000">dTAG-13</text>
<rect x="189.60" y="1645.50" width="289.20" height="185.90" fill="#fff" stroke="#000" stroke-width="2.2"/>
<circle cx="221.80" cy="1675.80" r="8.30" fill="#fff" stroke="#000" stroke-width="2.7"/>
<path d="M221.80,1707.10 L232.80,1728.10 L210.80,1728.10 Z" fill="#fff" stroke="#000" stroke-width="2.7" stroke-linejoin="miter"/>
<path d="M221.80,1750.10 L232.80,1761.10 L221.80,1772.10 L210.80,1761.10 Z" fill="#fff" stroke="#000" stroke-width="2.7" stroke-linejoin="miter"/>
<rect x="213.30" y="1795.70" width="17.00" height="17.00" fill="#fff" stroke="#000" stroke-width="2.7"/>
<text transform="translate(285.43,1686.10) scale(1.0206,1.04)" font-size="30.50" fill="#000">HiBiT-TEAD1</text>
<text transform="translate(285.48,1727.20) scale(0.9995,1.04)" font-size="30.50" fill="#000">HiBiT-TEAD2</text>
<text transform="translate(285.49,1770.60) scale(0.9983,1.04)" font-size="30.50" fill="#000">HiBiT-TEAD3</text>
<text transform="translate(285.49,1814.20) scale(0.9957,1.04)" font-size="30.50" fill="#000">HiBiT-TEAD4</text>
<rect x="179.25" y="1952.33" width="25.80" height="230.07" fill="#E8A055" stroke="#000" stroke-width="2.7"/>
<line x1="191.90" y1="1899.68" x2="191.90" y2="2002.85" stroke="#000" stroke-width="2.7"/>
<line x1="183.40" y1="1899.68" x2="200.40" y2="1899.68" stroke="#000" stroke-width="2.7"/>
<line x1="183.40" y1="2002.85" x2="200.40" y2="2002.85" stroke="#000" stroke-width="2.7"/>
<circle cx="191.60" cy="1898.54" r="8.00" fill="#fff" stroke="#000" stroke-width="2.7"/>
<circle cx="195.20" cy="1944.71" r="8.00" fill="#fff" stroke="#000" stroke-width="2.7"/>
<circle cx="188.80" cy="1938.44" r="8.00" fill="#fff" stroke="#000" stroke-width="2.7"/>
<circle cx="191.60" cy="2023.94" r="8.00" fill="#fff" stroke="#000" stroke-width="2.7"/>
<rect x="221.65" y="2137.01" width="25.80" height="45.39" fill="#E8A055" stroke="#000" stroke-width="2.7"/>
<line x1="234.30" y1="2082.08" x2="234.30" y2="2182.40" stroke="#000" stroke-width="2.7"/>
<line x1="225.80" y1="2082.08" x2="242.80" y2="2082.08" stroke="#000" stroke-width="2.7"/>
<line x1="225.80" y1="2182.40" x2="242.80" y2="2182.40" stroke="#000" stroke-width="2.7"/>
<path d="M230.60,2077.28 L241.60,2098.28 L219.60,2098.28 Z" fill="#fff" stroke="#000" stroke-width="2.7" stroke-linejoin="miter"/>
<path d="M236.60,2077.28 L247.60,2098.28 L225.60,2098.28 Z" fill="#fff" stroke="#000" stroke-width="2.7" stroke-linejoin="miter"/>
<path d="M232.00,2175.32 L243.00,2196.32 L221.00,2196.32 Z" fill="#fff" stroke="#000" stroke-width="2.7" stroke-linejoin="miter"/>
<path d="M236.00,2175.32 L247.00,2196.32 L225.00,2196.32 Z" fill="#fff" stroke="#000" stroke-width="2.7" stroke-linejoin="miter"/>
<rect x="264.25" y="2138.15" width="25.90" height="44.25" fill="#E8A055" stroke="#000" stroke-width="2.7"/>
<line x1="277.00" y1="2085.50" x2="277.00" y2="2182.40" stroke="#000" stroke-width="2.7"/>
<line x1="268.50" y1="2085.50" x2="285.50" y2="2085.50" stroke="#000" stroke-width="2.7"/>
<line x1="268.50" y1="2182.40" x2="285.50" y2="2182.40" stroke="#000" stroke-width="2.7"/>
<path d="M271.90,2081.34 L282.90,2092.34 L271.90,2103.34 L260.90,2092.34 Z" fill="#fff" stroke="#000" stroke-width="2.7" stroke-linejoin="miter"/>
<path d="M278.90,2074.50 L289.90,2085.50 L278.90,2096.50 L267.90,2085.50 Z" fill="#fff" stroke="#000" stroke-width="2.7" stroke-linejoin="miter"/>
<path d="M275.00,2172.54 L286.00,2183.54 L275.00,2194.54 L264.00,2183.54 Z" fill="#fff" stroke="#000" stroke-width="2.7" stroke-linejoin="miter"/>
<path d="M278.60,2172.54 L289.60,2183.54 L278.60,2194.54 L267.60,2183.54 Z" fill="#fff" stroke="#000" stroke-width="2.7" stroke-linejoin="miter"/>
<rect x="307.45" y="2180.90" width="23.60" height="1.50" fill="#E8A055" stroke="#000" stroke-width="2.7"/>
<rect x="309.00" y="2173.90" width="17.00" height="17.00" fill="#fff" stroke="#000" stroke-width="2.7"/>
<rect x="312.20" y="2170.48" width="17.00" height="17.00" fill="#fff" stroke="#000" stroke-width="2.7"/>
<rect x="378.65" y="2024.15" width="25.50" height="158.25" fill="#6BB0DC" stroke="#000" stroke-width="2.7"/>
<line x1="391.00" y1="1954.40" x2="391.00" y2="2091.20" stroke="#000" stroke-width="2.7"/>
<line x1="382.50" y1="1954.40" x2="399.50" y2="1954.40" stroke="#000" stroke-width="2.7"/>
<line x1="382.50" y1="2091.20" x2="399.50" y2="2091.20" stroke="#000" stroke-width="2.7"/>
<circle cx="391.00" cy="1949.27" r="8.00" fill="#fff" stroke="#000" stroke-width="2.7"/>
<circle cx="391.00" cy="2001.14" r="8.00" fill="#fff" stroke="#000" stroke-width="2.7"/>
<circle cx="391.00" cy="2023.94" r="8.00" fill="#fff" stroke="#000" stroke-width="2.7"/>
<circle cx="391.00" cy="2114.57" r="8.00" fill="#fff" stroke="#000" stroke-width="2.7"/>
<rect x="421.85" y="2166.65" width="25.50" height="15.75" fill="#6BB0DC" stroke="#000" stroke-width="2.7"/>
<line x1="433.60" y1="2133.95" x2="433.60" y2="2182.40" stroke="#000" stroke-width="2.7"/>
<line x1="425.10" y1="2133.95" x2="442.10" y2="2133.95" stroke="#000" stroke-width="2.7"/>
<line x1="425.10" y1="2182.40" x2="442.10" y2="2182.40" stroke="#000" stroke-width="2.7"/>
<path d="M433.60,2110.91 L444.60,2131.91 L422.60,2131.91 Z" fill="#fff" stroke="#000" stroke-width="2.7" stroke-linejoin="miter"/>
<path d="M431.00,2175.32 L442.00,2196.32 L420.00,2196.32 Z" fill="#fff" stroke="#000" stroke-width="2.7" stroke-linejoin="miter"/>
<path d="M434.00,2173.04 L445.00,2194.04 L423.00,2194.04 Z" fill="#fff" stroke="#000" stroke-width="2.7" stroke-linejoin="miter"/>
<path d="M436.00,2176.46 L447.00,2197.46 L425.00,2197.46 Z" fill="#fff" stroke="#000" stroke-width="2.7" stroke-linejoin="miter"/>
<rect x="464.45" y="2113.07" width="25.60" height="69.33" fill="#6BB0DC" stroke="#000" stroke-width="2.7"/>
<line x1="476.90" y1="2049.59" x2="476.90" y2="2171.00" stroke="#000" stroke-width="2.7"/>
<line x1="468.40" y1="2049.59" x2="485.40" y2="2049.59" stroke="#000" stroke-width="2.7"/>
<line x1="468.40" y1="2171.00" x2="485.40" y2="2171.00" stroke="#000" stroke-width="2.7"/>
<path d="M476.90,2024.34 L487.90,2035.34 L476.90,2046.34 L465.90,2035.34 Z" fill="#fff" stroke="#000" stroke-width="2.7" stroke-linejoin="miter"/>
<path d="M475.00,2097.30 L486.00,2108.30 L475.00,2119.30 L464.00,2108.30 Z" fill="#fff" stroke="#000" stroke-width="2.7" stroke-linejoin="miter"/>
<path d="M479.00,2103.00 L490.00,2114.00 L479.00,2125.00 L468.00,2114.00 Z" fill="#fff" stroke="#000" stroke-width="2.7" stroke-linejoin="miter"/>
<path d="M476.90,2171.40 L487.90,2182.40 L476.90,2193.40 L465.90,2182.40 Z" fill="#fff" stroke="#000" stroke-width="2.7" stroke-linejoin="miter"/>
<rect x="508.05" y="2168.36" width="24.20" height="14.04" fill="#6BB0DC" stroke="#000" stroke-width="2.7"/>
<line x1="519.00" y1="2150.48" x2="519.00" y2="2182.40" stroke="#000" stroke-width="2.7"/>
<line x1="514.00" y1="2150.48" x2="524.00" y2="2150.48" stroke="#000" stroke-width="2.7"/>
<line x1="514.00" y1="2182.40" x2="524.00" y2="2182.40" stroke="#000" stroke-width="2.7"/>
<rect x="510.50" y="2139.70" width="17.00" height="17.00" fill="#fff" stroke="#000" stroke-width="2.7"/>
<rect x="510.50" y="2173.90" width="17.00" height="17.00" fill="#fff" stroke="#000" stroke-width="2.7"/>
<rect x="509.50" y="2172.76" width="17.00" height="17.00" fill="#fff" stroke="#000" stroke-width="2.7"/>
<rect x="578.35" y="1944.35" width="25.60" height="238.05" fill="#5FB36B" stroke="#000" stroke-width="2.7"/>
<line x1="590.70" y1="1846.10" x2="590.70" y2="2038.76" stroke="#000" stroke-width="2.7"/>
<line x1="582.20" y1="1846.10" x2="599.20" y2="1846.10" stroke="#000" stroke-width="2.7"/>
<line x1="582.20" y1="2038.76" x2="599.20" y2="2038.76" stroke="#000" stroke-width="2.7"/>
<circle cx="590.70" cy="1858.07" r="8.00" fill="#fff" stroke="#000" stroke-width="2.7"/>
<circle cx="590.70" cy="1886.57" r="8.00" fill="#fff" stroke="#000" stroke-width="2.7"/>
<circle cx="590.70" cy="1949.84" r="8.00" fill="#fff" stroke="#000" stroke-width="2.7"/>
<circle cx="590.70" cy="2074.67" r="8.00" fill="#fff" stroke="#000" stroke-width="2.7"/>
<rect x="620.75" y="2145.56" width="25.80" height="36.84" fill="#5FB36B" stroke="#000" stroke-width="2.7"/>
<line x1="632.80" y1="2068.40" x2="632.80" y2="2182.40" stroke="#000" stroke-width="2.7"/>
<line x1="624.30" y1="2068.40" x2="641.30" y2="2068.40" stroke="#000" stroke-width="2.7"/>
<line x1="624.30" y1="2182.40" x2="641.30" y2="2182.40" stroke="#000" stroke-width="2.7"/>
<path d="M632.80,2019.71 L643.80,2040.71 L621.80,2040.71 Z" fill="#fff" stroke="#000" stroke-width="2.7" stroke-linejoin="miter"/>
<path d="M631.50,2176.46 L642.50,2197.46 L620.50,2197.46 Z" fill="#fff" stroke="#000" stroke-width="2.7" stroke-linejoin="miter"/>
<path d="M634.00,2174.18 L645.00,2195.18 L623.00,2195.18 Z" fill="#fff" stroke="#000" stroke-width="2.7" stroke-linejoin="miter"/>
<rect x="663.95" y="2095.40" width="25.80" height="87.00" fill="#5FB36B" stroke="#000" stroke-width="2.7"/>
<line x1="676.00" y1="1988.03" x2="676.00" y2="2182.40" stroke="#000" stroke-width="2.7"/>
<line x1="667.50" y1="1988.03" x2="684.50" y2="1988.03" stroke="#000" stroke-width="2.7"/>
<line x1="667.50" y1="2182.40" x2="684.50" y2="2182.40" stroke="#000" stroke-width="2.7"/>
<path d="M676.00,1966.20 L687.00,1977.20 L676.00,1988.20 L665.00,1977.20 Z" fill="#fff" stroke="#000" stroke-width="2.7" stroke-linejoin="miter"/>
<path d="M676.00,2018.07 L687.00,2029.07 L676.00,2040.07 L665.00,2029.07 Z" fill="#fff" stroke="#000" stroke-width="2.7" stroke-linejoin="miter"/>
<path d="M673.50,2172.54 L684.50,2183.54 L673.50,2194.54 L662.50,2183.54 Z" fill="#fff" stroke="#000" stroke-width="2.7" stroke-linejoin="miter"/>
<path d="M677.50,2171.40 L688.50,2182.40 L677.50,2193.40 L666.50,2182.40 Z" fill="#fff" stroke="#000" stroke-width="2.7" stroke-linejoin="miter"/>
<rect x="707.15" y="2168.36" width="25.30" height="14.04" fill="#5FB36B" stroke="#000" stroke-width="2.7"/>
<line x1="719.30" y1="2135.09" x2="719.30" y2="2182.40" stroke="#000" stroke-width="2.7"/>
<line x1="710.80" y1="2135.09" x2="727.80" y2="2135.09" stroke="#000" stroke-width="2.7"/>
<line x1="710.80" y1="2182.40" x2="727.80" y2="2182.40" stroke="#000" stroke-width="2.7"/>
<rect x="710.80" y="2111.77" width="17.00" height="17.00" fill="#fff" stroke="#000" stroke-width="2.7"/>
<rect x="709.00" y="2173.90" width="17.00" height="17.00" fill="#fff" stroke="#000" stroke-width="2.7"/>
<rect x="711.80" y="2171.62" width="17.00" height="17.00" fill="#fff" stroke="#000" stroke-width="2.7"/>
<rect x="777.15" y="1680.44" width="27.30" height="501.96" fill="#B4B4B4" stroke="#000" stroke-width="2.7"/>
<line x1="790.80" y1="1660.28" x2="790.80" y2="1694.48" stroke="#000" stroke-width="2.7"/>
<line x1="784.80" y1="1660.28" x2="796.80" y2="1660.28" stroke="#000" stroke-width="2.7"/>
<line x1="784.80" y1="1694.48" x2="796.80" y2="1694.48" stroke="#000" stroke-width="2.7"/>
<circle cx="788.20" cy="1691.63" r="8.00" fill="#fff" stroke="#000" stroke-width="2.7"/>
<circle cx="793.50" cy="1686.50" r="8.00" fill="#fff" stroke="#000" stroke-width="2.7"/>
<circle cx="790.60" cy="1675.10" r="8.00" fill="#fff" stroke="#000" stroke-width="2.7"/>
<circle cx="790.60" cy="1658.00" r="8.00" fill="#fff" stroke="#000" stroke-width="2.7"/>
<rect x="819.95" y="1677.59" width="27.10" height="504.81" fill="#B4B4B4" stroke="#000" stroke-width="2.7"/>
<line x1="833.50" y1="1654.58" x2="833.50" y2="1689.92" stroke="#000" stroke-width="2.7"/>
<line x1="825.50" y1="1654.58" x2="841.50" y2="1654.58" stroke="#000" stroke-width="2.7"/>
<line x1="825.50" y1="1689.92" x2="841.50" y2="1689.92" stroke="#000" stroke-width="2.7"/>
<path d="M833.30,1687.97 L844.30,1708.97 L822.30,1708.97 Z" fill="#fff" stroke="#000" stroke-width="2.7" stroke-linejoin="miter"/>
<path d="M830.00,1658.90 L841.00,1679.90 L819.00,1679.90 Z" fill="#fff" stroke="#000" stroke-width="2.7" stroke-linejoin="miter"/>
<path d="M835.50,1657.19 L846.50,1678.19 L824.50,1678.19 Z" fill="#fff" stroke="#000" stroke-width="2.7" stroke-linejoin="miter"/>
<path d="M833.30,1648.07 L844.30,1669.07 L822.30,1669.07 Z" fill="#fff" stroke="#000" stroke-width="2.7" stroke-linejoin="miter"/>
<rect x="862.85" y="1686.71" width="27.00" height="495.69" fill="#B4B4B4" stroke="#000" stroke-width="2.7"/>
<line x1="876.30" y1="1659.14" x2="876.30" y2="1715.00" stroke="#000" stroke-width="2.7"/>
<line x1="869.30" y1="1659.14" x2="883.30" y2="1659.14" stroke="#000" stroke-width="2.7"/>
<line x1="869.30" y1="1715.00" x2="883.30" y2="1715.00" stroke="#000" stroke-width="2.7"/>
<path d="M873.20,1704.00 L884.20,1715.00 L873.20,1726.00 L862.20,1715.00 Z" fill="#fff" stroke="#000" stroke-width="2.7" stroke-linejoin="miter"/>
<path d="M878.50,1686.90 L889.50,1697.90 L878.50,1708.90 L867.50,1697.90 Z" fill="#fff" stroke="#000" stroke-width="2.7" stroke-linejoin="miter"/>
<path d="M873.90,1652.70 L884.90,1663.70 L873.90,1674.70 L862.90,1663.70 Z" fill="#fff" stroke="#000" stroke-width="2.7" stroke-linejoin="miter"/>
<path d="M878.50,1652.70 L889.50,1663.70 L878.50,1674.70 L867.50,1663.70 Z" fill="#fff" stroke="#000" stroke-width="2.7" stroke-linejoin="miter"/>
<rect x="905.65" y="1692.98" width="26.80" height="489.42" fill="#B4B4B4" stroke="#000" stroke-width="2.7"/>
<line x1="919.00" y1="1660.85" x2="919.00" y2="1723.55" stroke="#000" stroke-width="2.7"/>
<line x1="912.00" y1="1660.85" x2="926.00" y2="1660.85" stroke="#000" stroke-width="2.7"/>
<line x1="912.00" y1="1723.55" x2="926.00" y2="1723.55" stroke="#000" stroke-width="2.7"/>
<rect x="908.20" y="1717.90" width="17.00" height="17.00" fill="#fff" stroke="#000" stroke-width="2.7"/>
<rect x="912.90" y="1705.93" width="17.00" height="17.00" fill="#fff" stroke="#000" stroke-width="2.7"/>
<rect x="907.50" y="1660.90" width="17.00" height="17.00" fill="#fff" stroke="#000" stroke-width="2.7"/>
<rect x="913.30" y="1643.80" width="17.00" height="17.00" fill="#fff" stroke="#000" stroke-width="2.7"/>
<text transform="translate(1120.84,1552.40) scale(0.9904,1.04)" font-size="43.00" fill="#000">XB2</text>
<text transform="translate(1212.05,1552.40) scale(0.9942,1.04)" font-size="43.00" fill="#000">IPD</text>
<text transform="translate(1293.85,1552.40) scale(0.9760,1.04)" font-size="43.00" font-weight="bold" fill="#000">A538</text>
<text transform="translate(1408.80,1552.40) scale(0.9326,1.04)" font-size="43.00" fill="#000">vs</text>
<text transform="translate(1460.44,1552.40) scale(1.0032,1.04)" font-size="43.00" fill="#000">DMSO</text>
<path d="M1566.8,2030.5h.01M1539.5,2157.4h.01M1536.8,2155.0h.01M1507.8,2058.8h.01M1543.2,2157.5h.01M1539.0,2154.8h.01M1536.1,2147.3h.01M1547.5,2154.4h.01M1549.0,2149.4h.01M1529.0,2110.5h.01M1531.4,2130.2h.01M1536.9,2150.7h.01M1552.6,2133.0h.01M1550.8,2151.7h.01M1525.8,2092.5h.01M1528.3,2120.5h.01M1553.2,2114.1h.01M1564.4,2134.8h.01M1534.2,2137.5h.01M1558.0,2130.7h.01M1539.2,2151.9h.01M1553.0,2115.6h.01M1564.1,2013.6h.01M1551.8,2149.4h.01M1553.1,2118.0h.01M1534.7,2138.6h.01M1540.9,2155.8h.01M1540.6,2157.9h.01M1544.5,2154.2h.01M1547.3,2150.3h.01M1562.1,2044.0h.01M1522.6,2152.0h.01M1560.7,2065.0h.01M1526.8,2115.4h.01M1557.6,2137.6h.01M1529.1,2154.8h.01M1546.2,2156.0h.01M1544.9,2151.6h.01M1520.7,2114.2h.01M1527.4,2142.9h.01M1551.4,2150.7h.01M1552.6,2142.4h.01M1557.9,2140.3h.01M1550.5,2141.8h.01M1548.6,2153.4h.01M1559.5,2098.7h.01M1532.0,2122.9h.01M1548.5,2143.2h.01M1522.2,2107.0h.01M1560.9,2121.0h.01M1532.7,2146.7h.01M1542.4,2159.1h.01M1572.2,2116.8h.01M1532.2,2136.0h.01M1536.2,2151.7h.01M1564.3,2154.4h.01M1528.8,2124.5h.01M1549.4,2142.9h.01M1561.4,2089.0h.01M1556.9,2123.3h.01M1551.3,2146.5h.01M1534.2,2144.5h.01M1533.8,2131.0h.01M1517.7,2088.3h.01M1552.5,2140.0h.01M1518.9,2118.3h.01M1555.1,2131.7h.01M1529.1,2124.0h.01M1534.1,2146.6h.01M1554.5,2113.2h.01M1531.7,2128.9h.01M1541.6,2158.8h.01M1536.3,2144.3h.01M1560.6,2077.4h.01M1530.4,2135.1h.01M1554.8,2129.2h.01M1526.4,2114.2h.01M1558.3,2112.1h.01M1555.0,2139.4h.01M1544.3,2154.3h.01M1521.4,2030.7h.01M1534.6,2149.3h.01M1567.3,2144.9h.01M1572.8,2123.0h.01M1554.9,2133.1h.01M1550.2,2145.5h.01M1552.5,2128.8h.01M1522.8,2144.9h.01M1528.2,2130.6h.01M1565.6,2132.5h.01M1548.4,2147.8h.01M1537.1,2145.7h.01M1553.6,2154.7h.01M1530.0,2126.3h.01M1564.0,2134.5h.01M1522.5,2077.8h.01M1556.0,2102.4h.01M1525.9,2138.9h.01M1550.2,2149.1h.01M1555.9,2122.1h.01M1534.3,2153.0h.01M1531.7,2143.3h.01M1527.8,2100.0h.01M1554.0,2110.0h.01M1547.9,2145.7h.01M1529.3,2130.1h.01M1564.1,2113.4h.01M1564.9,2111.1h.01M1555.7,2118.4h.01M1555.7,2137.3h.01M1552.7,2119.6h.01M1545.8,2150.2h.01M1524.0,2112.3h.01M1563.1,2048.4h.01M1522.1,2018.3h.01M1524.9,2140.7h.01M1563.3,2153.1h.01M1528.4,2110.9h.01M1533.9,2133.7h.01M1520.7,2136.8h.01M1520.6,2049.0h.01M1537.8,2149.4h.01M1563.9,2097.6h.01M1564.7,2072.8h.01M1522.0,2123.3h.01M1558.9,2093.9h.01M1524.8,2070.2h.01M1525.9,2099.9h.01M1525.1,2122.1h.01M1528.1,2155.2h.01M1560.3,2085.4h.01M1563.8,2030.1h.01M1516.9,2042.9h.01M1548.0,2156.2h.01M1519.2,2134.4h.01M1515.6,2099.3h.01M1534.1,2127.0h.01M1564.4,2077.3h.01M1547.9,2142.6h.01M1551.9,2136.8h.01M1528.6,2145.7h.01M1552.1,2154.0h.01M1530.2,2137.9h.01M1534.4,2150.8h.01M1534.5,2141.9h.01M1557.3,2126.5h.01M1560.9,2142.6h.01M1559.1,2148.7h.01M1530.6,2103.2h.01M1532.5,2138.0h.01M1532.6,2133.9h.01M1531.5,2116.7h.01M1562.7,2102.9h.01M1564.9,2012.3h.01M1532.8,2149.3h.01M1538.3,2148.7h.01M1563.9,2120.0h.01M1552.5,2130.5h.01M1560.2,2116.6h.01M1557.1,2105.3h.01M1552.0,2123.4h.01M1559.0,2126.7h.01M1558.9,2102.2h.01M1532.7,2127.2h.01M1522.5,2142.5h.01M1558.4,2083.3h.01M1549.4,2138.8h.01M1530.8,2107.6h.01M1520.9,2073.2h.01M1553.2,2147.6h.01M1550.6,2137.9h.01M1568.3,2032.2h.01M1565.1,2096.1h.01M1531.1,2133.2h.01M1553.1,2134.2h.01M1507.8,2130.2h.01M1564.7,2108.0h.01M1527.8,2128.6h.01M1530.4,2151.9h.01M1523.2,2046.6h.01M1559.2,2124.5h.01M1518.5,2068.8h.01M1533.2,2152.1h.01M1529.9,2147.1h.01M1564.7,2076.4h.01M1563.3,2069.1h.01M1518.1,2148.6h.01M1550.8,2135.1h.01M1555.8,2143.0h.01M1553.5,2156.7h.01M1509.7,2138.8h.01M1527.4,2112.2h.01M1529.8,2150.2h.01M1565.2,2038.4h.01M1560.7,2099.3h.01M1565.5,2091.4h.01M1525.5,2107.6h.01M1564.6,2127.4h.01M1521.4,2085.0h.01M1558.8,2100.2h.01M1527.9,2134.6h.01M1561.8,2072.2h.01M1524.7,2110.1h.01M1556.9,2141.9h.01M1554.4,2108.8h.01M1523.6,2081.7h.01M1561.0,2095.3h.01M1525.1,2146.2h.01M1510.7,2118.0h.01M1533.6,2134.3h.01M1557.1,2140.2h.01M1524.9,2087.8h.01M1521.7,2122.1h.01M1558.2,2090.9h.01M1538.0,2147.1h.01M1563.7,2138.4h.01M1561.0,2090.3h.01M1558.5,2132.3h.01M1550.7,2124.5h.01M1531.1,2128.9h.01M1519.3,2078.9h.01M1496.9,2016.0h.01M1561.6,2046.6h.01M1524.2,2117.2h.01M1528.6,2140.0h.01M1560.4,2082.9h.01M1552.2,2125.9h.01M1517.9,2113.7h.01M1530.1,2114.7h.01M1515.4,2052.7h.01M1550.2,2132.3h.01M1518.8,2132.8h.01M1524.7,2052.9h.01M1560.9,2102.8h.01M1557.0,2145.6h.01M1513.7,2058.8h.01M1553.4,2134.2h.01M1557.2,2135.6h.01M1521.0,2086.3h.01M1522.6,2111.1h.01M1550.3,2131.2h.01M1524.9,2102.9h.01M1531.9,2154.4h.01M1575.8,2082.1h.01M1548.1,2139.8h.01M1540.1,2153.8h.01M1525.5,2096.2h.01M1565.2,2009.4h.01M1555.3,2145.6h.01M1558.4,2135.6h.01M1546.2,2149.4h.01M1559.2,2095.4h.01M1557.6,2151.4h.01M1516.1,2094.4h.01M1523.1,2146.8h.01M1512.1,2098.1h.01M1556.6,2100.2h.01M1528.4,2137.3h.01M1516.7,2071.1h.01M1535.9,2140.7h.01M1562.1,2096.5h.01M1530.8,2148.5h.01M1569.5,2131.0h.01M1575.2,2086.4h.01M1569.0,2091.9h.01M1560.9,2136.4h.01M1575.0,2080.7h.01M1572.3,2076.5h.01M1573.4,2008.1h.01M1561.2,2129.6h.01M1546.2,2158.3h.01M1559.7,2072.7h.01M1571.8,2127.6h.01M1533.1,2140.7h.01M1523.7,2131.4h.01M1564.9,2084.6h.01M1557.5,2089.3h.01M1559.8,2074.0h.01M1533.3,2138.5h.01M1552.5,2144.8h.01M1528.2,2153.4h.01M1559.5,2088.2h.01M1526.4,2119.2h.01M1563.5,2106.9h.01M1533.5,2128.2h.01M1560.7,2113.4h.01M1520.1,2139.1h.01M1557.6,2147.0h.01M1527.1,2126.5h.01M1524.6,2116.3h.01M1527.5,2118.2h.01M1555.8,2107.3h.01M1532.7,2120.7h.01M1553.4,2120.1h.01M1563.7,2061.1h.01M1518.8,2074.8h.01M1559.8,2069.8h.01M1558.2,2114.7h.01M1556.7,2093.8h.01M1512.6,2031.3h.01M1511.6,2082.4h.01M1553.2,2124.8h.01M1556.0,2149.0h.01M1515.7,2113.1h.01M1587.7,2030.5h.01M1550.8,2126.2h.01M1525.6,2126.2h.01M1556.0,2112.5h.01M1525.7,2136.0h.01M1561.1,2123.8h.01M1565.7,2045.2h.01M1529.3,2113.6h.01M1554.5,2141.1h.01M1523.8,2064.7h.01M1560.6,2105.8h.01M1558.7,2142.7h.01M1555.1,2138.0h.01M1562.9,2086.8h.01M1518.2,2100.6h.01M1522.0,2060.1h.01M1521.1,2115.0h.01M1561.1,2147.6h.01M1558.5,2076.9h.01M1566.9,2142.7h.01M1529.2,2101.4h.01M1524.2,2060.1h.01M1512.4,2087.6h.01M1506.6,2030.8h.01M1532.1,2124.8h.01M1567.3,2115.3h.01M1526.8,2121.8h.01M1575.1,2118.6h.01M1520.4,2140.5h.01M1528.9,2147.4h.01M1521.8,2033.8h.01M1521.9,2134.1h.01M1564.5,2051.9h.01M1549.6,2154.7h.01M1515.3,2017.7h.01M1527.0,2108.1h.01M1518.9,2031.3h.01M1554.5,2121.3h.01M1563.3,2074.1h.01M1567.5,2136.9h.01M1555.8,2130.9h.01M1565.4,2071.2h.01M1554.0,2107.1h.01M1575.9,2019.0h.01M1522.9,2121.5h.01M1553.2,2157.1h.01M1563.0,2062.5h.01M1510.3,2032.9h.01M1557.0,2132.3h.01M1523.8,2072.5h.01M1565.5,2055.0h.01M1525.2,2105.4h.01M1515.6,2028.7h.01M1558.7,2107.5h.01M1546.6,2146.1h.01M1519.2,2093.3h.01M1558.6,2151.1h.01M1520.0,2060.8h.01M1551.6,2122.2h.01M1512.0,2134.0h.01M1569.0,2066.1h.01M1512.9,2112.1h.01M1512.0,2041.6h.01M1559.9,2109.9h.01M1525.8,2091.9h.01M1518.2,2040.8h.01M1521.1,2126.6h.01M1517.2,2150.6h.01M1567.6,2085.8h.01M1516.0,2107.3h.01M1564.5,2061.9h.01M1563.0,2075.8h.01M1530.4,2121.2h.01M1559.8,2135.0h.01M1514.4,2090.8h.01M1552.8,2153.1h.01M1563.9,2093.0h.01M1530.6,2140.0h.01M1567.1,2078.5h.01M1532.9,2151.3h.01M1569.2,2086.5h.01M1569.7,2143.4h.01M1519.1,2064.6h.01M1554.4,2117.3h.01M1523.2,2054.7h.01M1566.3,2101.3h.01M1522.7,2057.1h.01M1560.9,2139.6h.01M1530.6,2142.2h.01M1571.9,2091.0h.01M1569.4,2123.3h.01M1573.4,2013.1h.01M1517.2,2104.4h.01M1519.2,2066.1h.01M1566.5,2060.2h.01M1562.9,2026.2h.01M1538.5,2158.7h.01M1557.2,2116.1h.01M1519.0,2079.1h.01M1554.2,2151.9h.01M1529.0,2098.1h.01M1567.3,2062.8h.01M1561.6,2080.7h.01M1554.3,2143.4h.01M1526.0,2109.5h.01M1523.9,2127.0h.01M1530.9,2144.3h.01M1535.9,2156.4h.01M1560.8,2048.7h.01M1534.0,2156.4h.01M1568.0,2101.1h.01M1528.6,2105.2h.01M1561.6,2085.7h.01M1514.4,2126.5h.01M1560.3,2107.8h.01M1519.1,2120.5h.01M1529.9,2096.2h.01M1536.2,2140.1h.01M1555.4,2097.9h.01M1525.3,2123.6h.01M1511.4,2045.7h.01M1567.1,2057.0h.01M1567.6,2080.7h.01M1527.9,2142.2h.01M1522.5,2128.1h.01M1507.8,2043.4h.01M1509.8,2114.8h.01M1526.5,2074.7h.01M1519.8,2082.9h.01M1535.3,2155.2h.01M1562.3,2059.1h.01M1559.1,2104.6h.01M1561.8,2125.8h.01M1556.4,2080.9h.01M1513.8,2037.2h.01M1566.1,2141.5h.01M1526.3,2072.5h.01M1564.5,2017.8h.01M1524.3,2068.1h.01M1553.8,2150.1h.01M1564.5,2128.7h.01M1559.8,2085.8h.01M1508.0,2090.9h.01M1558.8,2111.4h.01M1505.1,2099.9h.01M1570.3,2034.3h.01M1556.6,2087.0h.01M1561.7,2103.5h.01M1548.3,2137.6h.01M1576.2,2065.3h.01M1573.1,2053.8h.01M1516.6,2137.4h.01M1514.5,2123.5h.01M1555.8,2120.6h.01M1520.0,2089.6h.01M1532.1,2115.4h.01M1564.2,2066.0h.01M1564.4,2117.0h.01M1526.1,2079.3h.01M1519.8,2106.1h.01M1523.1,2095.0h.01M1562.7,2145.5h.01M1513.8,2050.2h.01M1562.1,2142.9h.01M1515.5,2034.6h.01M1524.0,2089.4h.01M1563.8,2085.2h.01M1565.2,2115.4h.01M1565.6,2059.2h.01M1526.8,2137.8h.01M1565.5,2124.8h.01M1518.7,2058.6h.01M1512.1,2139.5h.01M1561.3,2076.3h.01M1515.0,2129.7h.01M1577.3,2060.7h.01M1568.1,2076.7h.01M1565.9,2103.7h.01M1527.4,2079.3h.01M1566.2,2068.8h.01M1525.5,2097.6h.01M1555.9,2111.1h.01M1523.3,2042.6h.01M1517.9,2023.9h.01M1524.8,2115.2h.01M1523.4,2135.9h.01M1516.9,2052.8h.01M1554.5,2098.3h.01M1548.3,2158.2h.01M1527.2,2082.3h.01M1562.4,2065.2h.01M1522.3,2093.9h.01M1571.8,2136.4h.01M1563.2,2079.5h.01M1565.0,2121.9h.01M1507.5,2017.8h.01M1562.2,2137.9h.01M1564.5,2049.5h.01M1557.3,2156.2h.01M1520.4,2030.2h.01M1524.4,2093.1h.01M1528.6,2133.5h.01M1560.9,2093.8h.01M1567.4,2000.1h.01M1558.2,2128.5h.01M1572.5,2144.0h.01M1570.9,2104.7h.01M1565.1,2035.5h.01M1572.2,2133.9h.01M1530.7,2117.3h.01M1562.5,2052.6h.01M1518.3,2056.9h.01M1519.8,2149.8h.01M1516.2,2044.4h.01M1530.0,2098.9h.01M1519.4,2130.4h.01M1505.9,2078.3h.01M1521.9,2142.4h.01M1553.1,2111.5h.01M1571.7,2013.0h.01M1525.1,2084.2h.01M1512.9,2020.6h.01M1527.4,2076.1h.01M1524.5,2097.3h.01M1553.7,2127.4h.01M1563.2,2114.7h.01M1516.1,2128.6h.01M1522.6,2102.6h.01M1570.3,2048.3h.01M1571.9,2028.0h.01M1524.2,2087.5h.01M1518.7,2047.4h.01M1516.9,2146.2h.01M1525.0,2089.5h.01M1522.1,2042.1h.01M1567.6,2069.9h.01M1526.8,2106.4h.01M1572.5,2078.3h.01M1558.0,2109.4h.01M1563.6,2104.1h.01M1525.1,2148.4h.01M1556.2,2108.1h.01M1559.9,2132.0h.01M1565.1,2097.8h.01M1550.8,2129.3h.01M1510.3,2125.7h.01M1558.1,2122.6h.01M1520.0,2045.1h.01M1564.1,2142.4h.01M1561.0,2098.4h.01M1556.9,2091.8h.01M1562.4,2116.9h.01M1558.8,2143.0h.01M1520.4,2016.1h.01M1574.0,2096.4h.01M1574.0,2067.0h.01M1567.7,2057.8h.01M1516.9,2066.4h.01M1554.2,2114.3h.01M1565.1,2143.1h.01M1509.9,2104.5h.01M1578.6,2095.4h.01M1524.8,2060.7h.01M1519.8,2025.3h.01M1566.7,2018.0h.01M1563.2,2110.3h.01M1523.8,2106.4h.01M1570.6,2106.6h.01M1523.7,2091.8h.01M1526.0,2069.3h.01M1513.9,2082.7h.01M1522.0,2110.2h.01M1517.2,2034.7h.01M1521.0,2007.7h.01M1554.7,2101.4h.01M1572.8,2098.2h.01M1557.6,2152.5h.01M1526.3,2154.3h.01M1576.7,1996.9h.01M1525.7,2078.2h.01M1553.2,2108.9h.01M1567.6,2127.5h.01M1525.3,2116.7h.01M1575.9,2047.3h.01M1522.4,2119.4h.01M1560.2,2114.3h.01M1568.8,2039.5h.01M1563.5,2056.9h.01M1571.8,2110.2h.01M1570.9,2096.3h.01M1568.8,2081.0h.01M1513.1,2148.3h.01M1574.9,2045.4h.01M1561.2,2060.9h.01M1521.5,2148.4h.01M1528.5,2089.7h.01M1522.1,2117.3h.01M1562.0,2071.6h.01M1528.0,2093.4h.01M1518.0,2121.6h.01M1519.3,2050.5h.01M1520.8,2068.3h.01M1563.2,2032.0h.01M1568.0,2051.2h.01M1519.7,2105.2h.01M1577.3,2099.0h.01M1556.1,2153.8h.01M1519.8,2124.4h.01M1516.6,2097.2h.01M1561.0,2062.2h.01M1564.9,2081.2h.01M1555.1,2099.1h.01M1565.0,2100.8h.01M1525.8,2081.6h.01M1524.6,2147.3h.01M1518.8,2085.2h.01M1518.6,2145.0h.01M1584.9,2051.9h.01M1564.4,2136.6h.01M1530.4,2109.5h.01M1525.7,2131.1h.01M1566.8,2132.4h.01M1568.8,2059.6h.01M1587.1,2010.7h.01M1561.0,2057.2h.01M1569.1,2118.4h.01M1566.7,2139.6h.01M1527.9,2090.7h.01M1559.7,2059.9h.01M1572.2,2080.5h.01M1556.8,2096.5h.01M1550.3,2156.1h.01M1568.1,2107.1h.01M1559.8,2144.8h.01M1531.9,2114.0h.01M1578.5,2068.6h.01M1554.5,2104.9h.01M1527.1,2094.5h.01M1555.4,2128.6h.01M1564.1,2082.6h.01M1561.6,2035.8h.01M1569.3,2045.1h.01M1571.7,1997.5h.01M1570.0,2036.1h.01M1530.6,2119.2h.01M1574.5,2027.1h.01M1524.6,2143.8h.01M1563.0,2087.9h.01M1568.8,2120.0h.01M1563.7,2100.5h.01M1535.8,2138.0h.01M1572.7,2033.5h.01M1569.8,2046.6h.01M1529.2,2098.4h.01M1563.3,2147.9h.01M1521.7,2067.1h.01M1524.7,2064.9h.01M1561.5,2053.8h.01M1569.5,2126.6h.01M1517.1,2130.1h.01M1520.8,2103.8h.01M1505.6,2076.1h.01M1518.7,2021.6h.01M1523.6,2104.0h.01M1564.7,2149.5h.01M1563.5,2090.2h.01M1523.6,2108.1h.01M1544.4,2153.8h.01M1507.4,2036.5h.01M1517.8,2108.8h.01M1521.1,2129.8h.01M1580.7,2110.4h.01M1520.1,2071.9h.01M1563.6,2125.1h.01M1569.8,2132.0h.01M1526.3,2152.4h.01M1526.8,2072.8h.01M1511.6,2133.2h.01M1521.2,2025.6h.01M1564.9,2145.9h.01M1559.9,2119.0h.01M1563.2,2132.5h.01M1517.2,2081.8h.01M1555.3,2093.4h.01M1567.6,2044.9h.01M1519.2,2073.6h.01M1516.4,2084.4h.01M1572.1,2021.4h.01M1567.3,2074.3h.01M1567.9,2024.3h.01M1569.7,2109.0h.01M1570.1,2096.1h.01M1526.2,2157.7h.01M1567.7,2108.7h.01M1576.6,2101.5h.01M1557.8,2119.3h.01M1566.6,2017.0h.01M1570.1,2074.6h.01M1510.0,2051.5h.01M1516.7,2091.9h.01M1517.4,2095.6h.01M1570.7,2111.9h.01M1561.3,2131.7h.01M1555.2,2090.1h.01M1516.4,2126.0h.01M1565.1,2040.8h.01M1577.1,2009.4h.01M1535.7,2158.5h.01M1520.2,2133.7h.01M1516.6,2016.7h.01M1570.3,2087.9h.01M1558.6,2116.8h.01M1566.4,2152.7h.01M1570.7,2115.4h.01M1558.7,2066.7h.01M1524.5,2075.5h.01M1559.0,2085.3h.01M1568.1,2099.6h.01M1523.4,2045.0h.01M1515.9,2076.5h.01M1564.5,2086.6h.01M1522.0,2100.3h.01M1565.7,2094.3h.01M1510.8,2123.2h.01M1566.7,2090.3h.01M1511.8,2050.5h.01M1516.5,2046.5h.01M1521.0,2096.7h.01M1525.4,2149.8h.01M1558.2,2153.9h.01M1580.4,2010.7h.01M1567.6,2064.5h.01M1580.5,2108.8h.01M1569.9,2054.2h.01M1573.9,2074.8h.01M1559.1,2072.0h.01M1567.1,2148.9h.01M1572.9,2061.6h.01M1568.9,2015.2h.01M1555.5,2153.5h.01M1517.2,2051.8h.01M1515.9,2059.8h.01M1520.9,2077.5h.01M1515.2,2132.7h.01M1575.9,2088.1h.01M1568.2,2048.7h.01M1523.6,2132.7h.01M1559.7,2059.1h.01M1523.6,2049.2h.01M1564.6,2131.7h.01M1521.3,2040.1h.01M1568.6,2063.3h.01M1579.0,2110.7h.01M1515.0,2047.0h.01M1515.9,2079.6h.01M1563.8,2149.5h.01M1520.2,2072.1h.01M1578.6,2099.4h.01M1564.6,2112.6h.01M1522.7,2157.0h.01M1505.4,2070.3h.01M1581.0,2106.4h.01M1563.5,2035.1h.01M1524.1,2137.2h.01M1575.2,2076.8h.01M1562.4,2077.8h.01M1517.9,2148.2h.01M1560.0,2152.9h.01M1566.9,2123.4h.01M1563.3,2127.7h.01M1563.7,2015.6h.01M1560.3,2153.9h.01M1512.8,2037.5h.01M1571.9,2061.3h.01M1560.5,2056.5h.01M1564.1,2121.6h.01M1520.5,2095.3h.01M1575.2,2090.6h.01M1567.7,2111.3h.01M1566.3,2089.8h.01M1517.8,2087.4h.01M1516.0,2025.9h.01M1512.7,2049.4h.01M1511.8,2057.1h.01M1509.6,2071.5h.01M1572.2,2072.0h.01M1560.7,2066.6h.01M1526.5,2127.8h.01M1565.7,2105.8h.01M1514.4,2072.3h.01M1563.1,2033.1h.01M1558.7,2070.0h.01M1517.4,2062.6h.01M1548.8,2135.1h.01M1572.9,2101.1h.01M1576.3,2015.2h.01M1564.7,2120.8h.01M1562.1,2107.7h.01M1525.2,2058.3h.01M1506.3,2129.7h.01M1516.2,2068.3h.01M1517.2,2073.9h.01M1523.4,2079.3h.01M1520.3,2028.0h.01M1517.6,2059.0h.01M1563.1,2131.0h.01M1575.8,2108.5h.01M1579.3,2129.1h.01M1523.5,2052.0h.01M1521.2,2157.3h.01M1510.4,2087.0h.01M1572.5,2072.6h.01M1564.8,2054.7h.01M1560.1,2052.5h.01M1567.3,2152.3h.01M1520.7,2022.3h.01M1516.4,2101.6h.01M1525.2,2132.6h.01M1501.9,2106.1h.01M1573.0,2106.0h.01M1574.6,2049.9h.01M1522.3,2088.5h.01M1524.3,2124.6h.01M1528.3,2087.6h.01M1526.9,2101.4h.01M1505.7,2061.2h.01M1571.0,2130.1h.01M1566.9,2089.7h.01M1558.0,2081.1h.01M1512.9,2103.8h.01M1522.6,2071.9h.01M1579.5,2121.0h.01M1521.7,2090.1h.01M1522.8,2055.3h.01M1516.0,2038.1h.01M1570.7,2101.5h.01M1562.5,2047.7h.01M1580.3,2051.9h.01M1565.2,1995.1h.01M1564.9,2024.8h.01M1521.1,2057.9h.01M1567.2,2014.2h.01M1511.6,2053.7h.01M1514.4,2154.0h.01M1571.1,2057.8h.01M1572.5,2087.7h.01M1516.8,2119.9h.01M1575.2,2072.4h.01M1519.7,2128.6h.01M1524.5,2063.5h.01M1509.8,2089.6h.01M1511.0,2108.0h.01M1528.4,2150.7h.01M1571.5,2040.7h.01M1514.6,2119.7h.01M1570.5,2024.8h.01M1573.0,2024.3h.01M1567.8,2027.8h.01M1517.3,2141.9h.01M1512.6,2091.4h.01M1521.1,2108.4h.01M1505.0,2101.5h.01M1569.2,2015.7h.01M1517.7,2138.6h.01M1515.2,2088.0h.01M1518.5,2097.7h.01M1576.0,2093.7h.01M1564.9,2047.7h.01M1513.5,2128.6h.01M1535.7,2133.5h.01M1573.4,2147.3h.01M1533.0,2157.0h.01M1513.8,2085.1h.01M1556.7,2081.8h.01M1578.2,2023.2h.01M1517.1,2099.0h.01M1563.6,2038.8h.01M1514.5,2105.1h.01M1559.8,2049.9h.01M1513.5,2102.9h.01M1513.2,2069.2h.01M1569.3,2074.5h.01M1531.5,2106.6h.01M1515.1,2051.9h.01M1571.9,2008.9h.01M1524.7,2047.3h.01M1574.0,2082.6h.01M1521.9,2052.0h.01M1505.5,2136.2h.01M1533.6,2123.0h.01M1570.6,2151.3h.01M1521.3,2056.6h.01M1557.4,2076.5h.01M1518.9,2036.4h.01M1523.9,2101.0h.01M1570.8,2125.6h.01M1503.6,2095.6h.01M1596.4,2059.4h.01M1566.5,2039.6h.01M1566.6,2135.3h.01M1521.9,2128.6h.01M1517.2,2014.3h.01M1515.6,2023.9h.01M1564.2,2082.4h.01M1517.4,2078.2h.01M1505.8,2093.8h.01M1572.4,2106.7h.01M1520.1,2153.3h.01M1566.6,2098.7h.01M1514.1,2128.5h.01M1509.3,2048.4h.01M1515.2,2032.3h.01M1570.3,2010.5h.01M1524.6,2085.2h.01M1519.7,2115.9h.01M1568.0,2117.4h.01M1512.8,2014.6h.01M1513.7,2147.0h.01M1568.8,2082.3h.01M1562.9,2127.3h.01M1509.1,2108.8h.01M1574.9,2033.2h.01M1517.9,2115.0h.01M1568.9,2156.2h.01M1567.4,2067.9h.01M1570.6,2128.8h.01M1522.2,2101.2h.01M1511.6,2046.0h.01M1568.5,2094.4h.01M1578.0,2012.1h.01M1573.6,2088.3h.01M1567.4,2104.6h.01M1518.9,2112.8h.01M1515.3,2137.2h.01M1564.9,2058.0h.01M1560.8,2150.3h.01M1527.3,2078.7h.01M1522.3,2045.9h.01M1580.0,2013.0h.01M1573.0,2067.5h.01M1520.8,2079.9h.01M1524.7,2067.3h.01M1566.8,2009.1h.01M1574.1,2052.5h.01M1573.4,2104.7h.01M1572.1,2109.4h.01M1571.5,2150.1h.01M1527.1,2083.8h.01M1565.9,2140.5h.01M1567.3,2122.6h.01M1565.5,2065.4h.01M1517.8,2134.2h.01M1569.6,2097.7h.01M1570.1,2018.9h.01M1509.0,2016.5h.01M1570.8,2038.7h.01M1568.5,2020.2h.01M1518.8,2033.4h.01M1570.0,2145.1h.01M1570.1,2135.3h.01M1519.8,2030.5h.01M1515.5,2014.8h.01M1521.6,2061.6h.01M1571.9,2032.3h.01M1567.5,2036.3h.01M1559.1,2062.0h.01M1569.3,2063.8h.01M1565.0,2016.0h.01M1568.9,2051.7h.01M1522.1,2083.0h.01M1511.9,2125.7h.01M1505.8,2113.5h.01M1569.6,2000.3h.01M1524.1,2150.1h.01M1517.9,2029.1h.01M1520.4,2048.2h.01M1518.9,2142.4h.01M1567.2,2094.9h.01M1560.7,2045.1h.01M1508.5,2066.4h.01M1568.0,2042.6h.01M1568.7,2140.2h.01M1511.5,2096.4h.01M1521.4,2064.2h.01M1515.4,2027.0h.01M1515.4,2121.0h.01M1571.0,2036.0h.01M1535.9,2135.7h.01M1580.9,2046.5h.01M1519.9,2063.4h.01M1518.5,2019.1h.01M1511.4,2142.9h.01M1561.5,2042.6h.01M1519.4,2027.2h.01M1512.2,2120.7h.01M1563.0,2025.9h.01M1558.7,2063.8h.01M1514.5,2138.9h.01M1574.4,2084.4h.01M1510.5,2013.2h.01M1523.9,2158.6h.01M1519.0,2042.1h.01M1520.8,2052.7h.01M1578.6,2090.0h.01M1523.9,2154.7h.01M1578.8,2047.9h.01M1566.9,2130.4h.01M1498.4,2077.8h.01M1506.8,2110.1h.01M1512.8,2114.5h.01M1496.1,2121.3h.01M1606.9,2068.0h.01M1495.2,2100.3h.01M1508.6,2078.8h.01M1616.0,2036.9h.01M1588.1,2031.6h.01M1587.3,2093.4h.01M1600.2,2083.2h.01M1656.9,2120.0h.01M1497.4,2061.3h.01M1460.2,2087.8h.01M1575.2,2024.3h.01M1455.3,2088.6h.01M1646.6,2083.5h.01M1509.7,2073.4h.01M1500.6,2085.0h.01M1502.9,2046.1h.01M1507.6,2134.7h.01M1594.5,2058.7h.01M1495.8,2105.6h.01M1497.4,2083.1h.01M1621.1,2069.1h.01M1632.0,2059.1h.01M1580.3,2019.8h.01M1619.2,2058.6h.01M1625.9,2071.0h.01M1489.6,2023.4h.01M1503.0,2103.9h.01M1582.1,2115.3h.01M1584.0,2101.2h.01M1574.3,2110.2h.01M1505.1,2021.4h.01M1498.2,2071.2h.01M1574.0,2062.6h.01M1506.4,2084.2h.01M1615.1,2144.9h.01M1640.1,2052.2h.01M1580.0,2058.4h.01M1591.8,2125.3h.01M1580.7,2088.3h.01M1499.7,2024.3h.01M1571.9,2122.1h.01M1496.7,2093.5h.01M1584.5,2088.1h.01M1470.5,2139.9h.01M1497.9,2125.6h.01M1589.3,2066.4h.01M1501.5,2042.3h.01M1638.6,2083.0h.01M1514.7,2073.4h.01M1600.5,2127.4h.01M1495.7,2094.0h.01M1576.3,2055.0h.01M1636.8,2007.3h.01M1509.5,2036.6h.01M1498.5,2033.1h.01M1504.9,2027.6h.01M1590.8,2028.5h.01M1576.2,2020.7h.01M1513.4,2089.1h.01M1500.3,2017.4h.01M1629.0,2055.8h.01M1498.4,2110.1h.01M1593.0,2079.5h.01M1503.8,2109.2h.01M1598.5,2026.1h.01M1479.9,2053.9h.01M1491.8,2079.9h.01M1576.0,2135.3h.01M1594.2,2083.7h.01M1514.2,2109.2h.01M1601.0,2118.8h.01M1590.0,2078.3h.01M1508.7,2028.7h.01M1572.1,2056.6h.01M1504.0,2144.5h.01M1580.5,2053.9h.01M1585.9,2116.3h.01M1514.5,2077.5h.01M1515.5,2114.5h.01M1515.5,2061.7h.01M1646.1,2088.3h.01M1415.9,2094.4h.01M1489.4,2148.8h.01M1579.5,2020.5h.01M1579.3,2116.7h.01M1484.3,2104.9h.01M1492.2,2068.5h.01M1583.2,2093.9h.01M1586.2,2046.1h.01M1440.0,2073.8h.01M1467.6,2057.3h.01M1467.2,2121.1h.01M1608.5,2088.6h.01M1479.8,2074.9h.01M1509.0,2136.8h.01M1608.4,2090.4h.01M1504.0,2080.3h.01M1613.2,2107.6h.01M1575.2,2123.1h.01M1495.7,2082.4h.01M1480.9,2078.2h.01M1514.9,2063.9h.01M1583.0,2068.2h.01M1622.8,2075.8h.01M1683.0,2070.6h.01M1608.6,2132.7h.01M1511.3,2107.6h.01M1593.7,2086.2h.01M1574.3,2101.8h.01M1495.9,2080.1h.01M1585.0,2070.3h.01M1594.6,2066.0h.01M1500.3,2052.5h.01M1610.9,2095.6h.01M1577.1,2123.2h.01M1628.1,2063.1h.01M1501.3,2151.6h.01M1580.7,2092.7h.01M1589.6,2044.7h.01M1593.9,2032.2h.01M1456.6,2108.2h.01M1575.4,2038.7h.01M1578.2,2123.5h.01M1592.8,2075.0h.01M1458.2,2116.2h.01M1593.5,2083.4h.01M1592.5,2075.3h.01M1594.2,2105.8h.01M1506.8,2042.2h.01M1577.2,2104.5h.01M1578.4,2081.4h.01M1493.6,2104.5h.01M1506.3,2056.2h.01M1594.6,2096.2h.01M1499.3,2097.5h.01M1505.2,2092.2h.01M1638.9,2101.3h.01M1480.8,2138.6h.01M1622.8,2074.1h.01M1510.9,2055.6h.01M1588.6,2035.2h.01M1583.5,2056.6h.01M1506.4,2079.7h.01M1508.1,2123.5h.01M1612.6,2130.0h.01M1496.6,2138.3h.01M1512.7,2131.7h.01M1501.9,2099.1h.01M1512.0,2061.3h.01M1498.7,2133.8h.01M1489.0,2027.9h.01M1573.6,2039.9h.01M1484.5,2054.7h.01M1510.2,2028.1h.01M1631.5,2026.4h.01M1471.1,2028.9h.01M1594.1,2028.2h.01M1573.8,2046.1h.01M1495.5,2059.6h.01M1467.1,2090.6h.01M1593.0,2088.0h.01M1591.8,2090.0h.01M1572.2,2115.0h.01M1507.5,2012.3h.01M1417.6,2086.5h.01M1514.3,2087.1h.01M1513.9,2147.3h.01M1503.5,2072.6h.01M1502.4,2088.1h.01M1631.1,2120.6h.01M1488.6,2112.4h.01M1570.8,2113.0h.01M1440.4,2119.5h.01M1580.6,2103.3h.01M1584.5,2139.4h.01M1434.3,2080.8h.01M1468.1,2116.5h.01M1458.6,2109.2h.01M1585.0,2064.7h.01M1450.1,2031.0h.01M1506.9,2072.6h.01M1459.2,2037.7h.01M1477.7,2051.1h.01M1499.9,2113.1h.01M1585.1,2091.7h.01M1478.5,2124.9h.01M1473.3,2132.1h.01M1408.0,2119.2h.01M1617.6,2062.3h.01M1598.6,2114.4h.01M1576.1,2030.3h.01M1600.1,2046.5h.01M1495.2,2033.2h.01M1497.2,2116.4h.01M1491.5,2128.0h.01M1471.1,2075.4h.01M1451.0,2015.7h.01M1603.9,2138.0h.01M1590.7,2066.0h.01M1459.7,2106.6h.01M1509.6,2057.2h.01M1627.1,2028.2h.01M1626.7,2054.0h.01M1498.8,2035.9h.01M1458.0,2061.4h.01M1464.9,2048.0h.01M1581.4,2138.5h.01M1610.5,2067.1h.01M1588.9,2105.4h.01M1482.6,2134.2h.01M1498.3,2088.6h.01M1634.5,2065.4h.01M1614.1,2082.2h.01M1624.7,2122.5h.01M1620.5,2094.8h.01M1578.5,2133.7h.01M1444.5,2087.5h.01M1476.0,2033.0h.01M1466.0,2052.9h.01M1462.6,2106.5h.01M1634.5,2105.4h.01M1573.8,2136.0h.01M1504.4,2023.0h.01M1472.2,2116.2h.01M1478.6,2118.1h.01M1598.2,2048.9h.01M1425.6,2102.4h.01M1572.9,2094.1h.01M1507.0,2009.2h.01M1472.6,2072.0h.01M1599.2,2064.8h.01M1491.0,2063.8h.01M1483.3,2147.1h.01M1493.5,2020.8h.01M1493.8,2124.6h.01M1419.0,2049.8h.01M1582.6,2146.9h.01M1515.0,2041.8h.01M1582.2,2015.1h.01M1606.3,2101.1h.01M1454.8,2105.6h.01M1480.1,2149.9h.01M1514.0,2096.0h.01M1501.4,2024.1h.01M1472.5,2039.5h.01M1504.3,2107.2h.01M1593.1,2116.8h.01M1505.6,2133.6h.01M1648.7,2055.0h.01M1493.1,2063.3h.01M1489.6,2106.3h.01M1499.5,2052.7h.01M1602.8,2124.9h.01M1635.2,2059.3h.01M1492.4,2109.6h.01M1570.3,2057.1h.01M1492.9,2058.2h.01M1570.9,2022.8h.01M1506.7,2045.8h.01M1457.4,2131.3h.01M1404.6,2124.0h.01M1501.3,2093.1h.01M1569.4,2042.6h.01M1504.2,2131.3h.01M1513.9,2069.0h.01M1574.4,2141.8h.01M1577.1,2107.3h.01M1576.6,2115.0h.01M1507.1,2082.3h.01M1583.8,2038.0h.01M1444.4,2148.7h.01M1459.9,2045.4h.01M1624.8,2070.5h.01M1594.1,2020.5h.01M1499.9,2093.8h.01M1593.0,2012.5h.01M1584.0,2123.5h.01M1497.3,2076.0h.01M1495.4,2125.3h.01M1448.5,2076.5h.01M1497.2,2031.7h.01M1595.9,2114.9h.01M1578.1,2054.5h.01M1484.0,2107.4h.01M1586.6,2063.4h.01M1511.7,2073.0h.01M1449.5,2082.0h.01M1588.8,2112.0h.01M1569.2,2069.1h.01M1499.4,2125.1h.01M1502.3,2017.0h.01M1572.5,2043.7h.01M1417.7,2144.7h.01M1389.7,2071.7h.01M1576.4,2079.3h.01M1514.9,2112.0h.01M1578.7,2014.1h.01M1470.6,2070.6h.01M1467.2,2075.1h.01M1583.1,2109.4h.01M1506.5,2066.8h.01M1511.8,2142.7h.01M1670.2,2100.5h.01M1512.6,2061.8h.01M1574.0,2032.3h.01M1611.5,2015.9h.01M1586.9,2117.6h.01M1579.8,2124.0h.01M1474.5,2110.3h.01M1603.3,2105.9h.01M1577.2,2030.8h.01M1601.4,2123.3h.01M1645.4,2115.5h.01M1494.9,2139.5h.01M1512.0,2084.9h.01M1590.6,2079.4h.01M1406.3,2105.0h.01M1501.8,2048.2h.01M1569.3,2084.1h.01M1490.2,2067.5h.01M1582.6,2148.1h.01M1512.7,2057.0h.01M1670.6,2105.8h.01M1493.8,2118.3h.01M1571.4,2048.6h.01M1606.8,2040.3h.01M1597.3,2016.9h.01M1461.7,2090.8h.01M1508.7,2063.9h.01M1586.6,2073.2h.01M1572.3,2012.8h.01M1501.2,2139.6h.01M1583.7,2064.0h.01M1575.4,2128.8h.01M1486.9,2044.1h.01M1513.8,2144.5h.01M1495.8,2112.7h.01M1639.8,2014.3h.01M1503.7,2086.0h.01M1501.3,2058.4h.01M1514.0,2105.6h.01M1488.0,2073.5h.01M1608.9,2117.2h.01M1615.8,2061.9h.01M1579.0,2076.7h.01M1404.7,2066.7h.01M1585.5,2055.8h.01M1573.6,2059.4h.01M1586.9,2086.5h.01M1507.0,2113.0h.01M1595.8,2044.8h.01M1620.8,2130.1h.01M1588.6,2108.1h.01M1581.9,2075.3h.01M1592.8,2131.1h.01M1583.7,2103.4h.01M1486.7,2104.7h.01M1599.9,2074.7h.01M1502.8,2116.2h.01M1601.7,2130.9h.01M1491.2,2131.0h.01M1506.5,2035.1h.01M1573.0,2131.8h.01M1605.8,2074.8h.01M1573.2,2042.5h.01M1569.8,2094.2h.01M1600.9,2093.8h.01M1595.6,2103.3h.01M1588.0,2120.8h.01M1596.5,2063.9h.01M1577.0,2085.2h.01M1492.2,2120.6h.01M1499.0,2059.6h.01M1577.7,2077.3h.01M1578.0,2084.4h.01M1598.6,2120.7h.01M1597.9,2097.2h.01M1462.3,2060.4h.01M1487.5,2046.4h.01M1586.1,2077.0h.01M1621.2,2140.1h.01M1453.2,2098.0h.01M1493.4,2036.4h.01M1582.5,2028.5h.01M1470.7,2042.2h.01M1573.4,2057.1h.01M1630.9,2019.7h.01M1433.0,2094.4h.01M1635.4,2108.8h.01M1500.2,2142.3h.01M1446.9,2108.1h.01M1508.9,2062.6h.01M1632.3,2129.3h.01M1473.3,2066.3h.01M1462.1,2124.2h.01M1586.8,2058.0h.01M1493.3,2065.0h.01M1583.6,2122.6h.01M1689.2,2114.5h.01M1507.3,2072.9h.01M1411.2,2098.0h.01M1502.4,2091.0h.01M1579.1,2091.5h.01M1590.0,2046.2h.01M1489.7,2055.6h.01M1580.2,2130.1h.01M1575.8,2052.9h.01M1610.1,2096.6h.01M1504.5,2008.8h.01M1650.5,2074.7h.01M1596.5,2039.9h.01M1471.0,2014.5h.01M1616.6,2104.6h.01M1584.6,2026.2h.01M1574.4,2137.1h.01M1589.0,2124.5h.01M1613.5,2016.3h.01M1591.6,2108.1h.01M1481.8,2094.8h.01M1579.7,2141.2h.01M1507.8,2126.5h.01M1567.9,2038.8h.01M1583.5,2058.1h.01M1662.5,2088.7h.01M1578.7,2112.7h.01M1577.4,2095.3h.01M1477.9,2087.0h.01M1571.3,2081.2h.01M1494.1,2103.8h.01M1496.0,2124.6h.01M1575.4,2125.4h.01M1579.8,2075.2h.01M1510.8,2067.0h.01M1468.4,2085.8h.01M1495.5,2145.1h.01M1489.1,2128.3h.01M1568.0,2071.5h.01M1602.0,2113.4h.01M1612.6,2123.7h.01M1577.4,2050.4h.01M1624.1,2082.5h.01M1583.1,2050.3h.01M1570.9,2053.8h.01M1580.4,2034.2h.01M1486.4,2096.6h.01M1578.1,2126.5h.01M1605.5,2030.9h.01M1465.6,2070.5h.01M1468.9,2104.1h.01M1641.0,2061.9h.01M1495.5,2014.4h.01M1514.0,2075.9h.01M1571.6,2112.5h.01M1578.7,2073.8h.01M1595.2,2070.6h.01M1645.6,2058.3h.01M1488.1,2025.0h.01M1640.4,2087.3h.01M1483.1,2033.6h.01M1490.3,2119.4h.01M1437.8,2041.2h.01M1503.5,2084.2h.01M1483.9,2149.7h.01M1464.9,2093.3h.01M1494.0,2122.3h.01M1597.3,2092.6h.01M1407.7,2070.0h.01M1502.4,2030.6h.01M1508.6,2106.9h.01M1610.1,2121.9h.01M1578.6,2035.2h.01M1606.8,2139.7h.01M1506.3,2114.3h.01M1588.8,2138.0h.01M1656.2,2083.6h.01M1449.2,2038.3h.01M1581.7,2065.5h.01M1473.8,2123.7h.01M1594.9,2045.8h.01M1494.7,2063.0h.01M1583.4,2025.4h.01M1478.0,2130.0h.01M1615.7,2028.0h.01M1646.0,2031.8h.01M1404.8,2103.8h.01M1461.0,2079.3h.01M1594.7,2038.1h.01M1480.6,2111.7h.01M1588.7,2129.1h.01M1490.4,2108.4h.01M1487.9,2144.3h.01M1591.8,2061.6h.01M1497.8,2128.0h.01M1500.9,2020.2h.01M1603.3,2088.1h.01M1457.5,2069.0h.01M1623.5,2043.3h.01M1594.3,2033.2h.01M1673.5,2058.8h.01M1630.9,2085.1h.01M1451.4,2072.1h.01M1571.7,2008.2h.01M1584.2,2105.1h.01M1590.3,2038.3h.01M1603.3,2117.3h.01M1508.8,2104.8h.01M1480.7,2060.1h.01M1475.2,2061.0h.01M1572.7,2119.8h.01M1594.9,2112.2h.01M1418.8,2070.3h.01M1502.7,2050.9h.01M1473.2,2088.3h.01M1591.6,2082.4h.01M1644.9,2107.6h.01M1471.1,2120.8h.01M1574.2,2097.4h.01M1494.3,2045.7h.01M1462.1,2121.8h.01M1573.5,2109.8h.01M1482.5,2100.2h.01M1498.4,2109.0h.01M1607.4,2110.2h.01M1410.2,2048.2h.01M1606.1,2104.5h.01M1573.9,2023.0h.01M1506.2,2049.2h.01M1600.0,2022.5h.01M1577.5,2061.9h.01M1504.1,2042.5h.01M1582.7,2079.2h.01M1409.4,2033.6h.01M1501.1,2032.9h.01M1585.8,2097.3h.01M1493.4,2139.2h.01M1512.5,2116.8h.01M1585.1,2110.5h.01M1495.2,2056.6h.01M1504.6,2029.0h.01M1601.5,2092.2h.01M1612.1,2100.5h.01M1632.4,2068.3h.01M1615.7,2100.2h.01M1473.2,2098.2h.01M1434.2,2061.0h.01M1458.1,2151.1h.01M1509.8,2054.4h.01M1488.2,2028.9h.01M1420.9,2052.7h.01M1617.5,2107.8h.01M1592.5,2070.5h.01M1615.0,2111.7h.01M1625.3,2055.9h.01M1478.9,2028.1h.01M1502.1,2035.0h.01M1463.2,2061.1h.01M1498.8,2101.6h.01M1508.8,2047.0h.01M1410.1,2024.1h.01M1460.8,2085.2h.01M1433.1,2033.6h.01M1470.9,2016.1h.01M1584.1,2069.7h.01M1473.0,2126.9h.01M1514.3,2135.7h.01M1499.6,2145.8h.01M1610.3,2099.4h.01M1510.6,2092.8h.01M1484.4,2055.9h.01M1507.7,2111.2h.01M1592.5,2103.5h.01M1637.2,2079.0h.01M1493.9,2018.1h.01M1599.7,2136.4h.01M1596.9,2067.0h.01M1468.1,2076.8h.01M1576.8,2072.6h.01M1649.9,2119.5h.01M1595.5,2131.3h.01M1501.5,2086.2h.01M1580.3,2062.4h.01M1508.8,2128.2h.01M1509.9,2131.6h.01M1441.8,2081.0h.01M1451.3,2082.0h.01M1662.4,2075.6h.01M1503.2,2055.6h.01M1571.3,2135.9h.01M1570.2,2099.5h.01M1497.7,2103.7h.01M1590.2,2099.9h.01M1523.4,2138.9h.01M1582.0,2090.3h.01M1513.0,2121.4h.01M1579.7,2099.2h.01M1569.7,2137.5h.01M1579.7,2114.8h.01M1509.3,2083.3h.01M1521.9,2143.2h.01M1582.4,2135.5h.01M1516.1,2154.2h.01M1603.6,2149.4h.01M1570.0,2151.6h.01M1504.3,2127.4h.01M1486.7,2130.1h.01M1490.7,2087.5h.01M1575.1,2115.5h.01M1498.1,2119.9h.01M1590.8,2154.2h.01M1588.9,2090.3h.01M1572.6,2149.1h.01M1480.3,2132.8h.01M1589.6,2152.2h.01M1586.3,2104.0h.01M1519.4,2136.4h.01M1503.3,2112.5h.01M1502.7,2145.1h.01M1485.9,2089.3h.01M1577.6,2115.1h.01M1510.1,2099.5h.01M1599.2,2089.0h.01M1633.6,2100.7h.01M1501.8,2116.1h.01M1495.7,2128.2h.01M1577.7,2109.2h.01M1476.7,2152.2h.01M1601.3,2122.6h.01M1515.4,2101.1h.01M1490.9,2114.6h.01M1578.1,2143.0h.01M1474.5,2084.6h.01M1483.7,2125.1h.01M1484.2,2143.9h.01M1589.6,2111.7h.01M1520.2,2155.2h.01M1499.1,2081.7h.01M1576.0,2130.2h.01M1511.9,2094.1h.01M1483.8,2100.9h.01M1592.9,2135.7h.01M1575.3,2138.0h.01M1602.5,2102.2h.01M1602.9,2127.7h.01M1484.2,2081.7h.01M1584.6,2120.1h.01M1587.4,2143.9h.01M1585.7,2084.2h.01M1470.8,2103.0h.01M1579.1,2079.4h.01M1508.2,2140.1h.01M1594.1,2141.0h.01M1519.0,2102.2h.01M1583.7,2113.5h.01M1566.7,2149.9h.01M1673.3,2112.7h.01M1576.2,2122.9h.01M1502.3,2134.7h.01M1492.5,2112.7h.01M1516.0,2121.6h.01M1501.7,2098.2h.01M1581.0,2134.2h.01M1497.5,2130.2h.01M1574.8,2144.1h.01M1582.8,2131.4h.01M1503.4,2099.8h.01M1570.1,2147.6h.01M1515.6,2151.9h.01M1605.8,2148.9h.01M1511.2,2136.7h.01M1510.8,2147.0h.01M1521.3,2145.7h.01M1484.3,2115.8h.01M1566.7,2113.2h.01M1498.1,2100.3h.01M1517.7,2123.4h.01M1486.2,2120.8h.01M1578.9,2107.3h.01M1574.7,2125.4h.01M1560.7,2146.7h.01M1507.4,2117.3h.01M1488.3,2136.2h.01M1588.0,2080.6h.01M1574.2,2129.5h.01M1578.0,2136.2h.01M1484.2,2135.6h.01M1602.8,2121.8h.01M1519.3,2094.5h.01M1583.0,2142.7h.01M1574.2,2118.1h.01M1495.2,2129.9h.01M1585.4,2096.2h.01M1598.9,2128.6h.01M1508.4,2133.2h.01M1590.5,2134.4h.01M1496.4,2111.4h.01M1508.3,2096.2h.01M1587.2,2115.0h.01M1519.6,2126.4h.01M1507.8,2101.1h.01M1510.6,2136.1h.01M1489.4,2137.3h.01M1578.9,2148.5h.01M1506.3,2150.5h.01M1594.7,2129.1h.01M1475.1,2130.7h.01M1521.8,2149.6h.01M1515.2,2151.1h.01M1506.4,2139.6h.01M1569.8,2122.3h.01M1519.9,2090.4h.01M1511.6,2137.7h.01M1503.9,2111.7h.01M1574.5,2129.9h.01M1517.7,2133.9h.01M1507.2,2097.6h.01M1567.8,2125.4h.01M1506.4,2121.1h.01M1497.7,2102.3h.01M1518.9,2109.8h.01M1572.6,2152.0h.01M1502.0,2143.5h.01M1615.8,2102.5h.01M1573.1,2146.2h.01M1502.4,2153.1h.01M1508.0,2099.7h.01M1503.7,2148.0h.01M1586.2,2154.7h.01M1488.0,2122.1h.01M1473.5,2147.8h.01M1505.2,2117.3h.01M1505.2,2124.5h.01M1505.8,2137.6h.01M1571.9,2153.8h.01M1597.2,2103.1h.01M1582.3,2140.4h.01M1513.0,2077.7h.01M1586.1,2148.7h.01M1580.4,2143.7h.01M1592.7,2152.7h.01M1570.8,2142.6h.01M1513.2,2123.2h.01M1489.8,2096.8h.01M1497.3,2097.9h.01M1512.0,2145.3h.01M1591.1,2077.6h.01M1492.2,2143.0h.01M1599.8,2086.7h.01M1476.2,2117.6h.01M1492.4,2102.5h.01M1501.3,2102.3h.01M1468.1,2118.9h.01M1471.8,2108.2h.01M1574.2,2155.4h.01M1498.9,2131.4h.01M1482.1,2140.7h.01M1503.1,2133.7h.01M1506.1,2147.8h.01M1498.9,2076.6h.01M1488.4,2107.5h.01M1599.9,2129.7h.01M1591.9,2149.1h.01M1518.0,2111.9h.01M1586.2,2122.0h.01M1580.3,2085.7h.01M1491.6,2155.3h.01M1499.9,2086.3h.01M1481.0,2122.3h.01M1513.6,2141.3h.01M1483.8,2137.1h.01M1513.3,2080.1h.01M1498.2,2086.5h.01M1595.6,2129.3h.01M1492.0,2136.7h.01M1590.9,2101.7h.01M1521.8,2120.4h.01M1584.9,2135.4h.01M1504.0,2097.7h.01M1488.4,2086.6h.01M1511.3,2129.1h.01M1597.8,2083.0h.01M1631.5,2075.9h.01M1616.3,2118.5h.01M1595.2,2132.0h.01M1502.5,2121.7h.01M1593.7,2124.6h.01M1597.2,2111.5h.01M1507.0,2152.8h.01M1493.3,2097.4h.01M1513.4,2107.3h.01M1490.3,2124.9h.01M1598.4,2147.0h.01M1579.3,2093.5h.01M1494.9,2118.3h.01M1583.8,2082.3h.01M1449.2,2081.1h.01M1575.9,2143.1h.01M1443.5,2134.2h.01M1487.9,2077.7h.01M1504.3,2090.9h.01M1585.2,2113.8h.01M1509.7,2110.7h.01M1612.3,2150.3h.01M1498.9,2096.4h.01M1500.7,2132.1h.01M1488.9,2102.2h.01M1511.8,2099.8h.01M1589.1,2146.8h.01M1501.1,2137.5h.01M1486.7,2117.4h.01M1499.5,2151.8h.01M1591.1,2099.9h.01M1582.5,2128.7h.01M1599.7,2109.5h.01M1580.4,2078.6h.01M1508.1,2147.4h.01M1588.1,2128.3h.01M1578.0,2142.8h.01M1519.3,2146.8h.01M1587.4,2099.3h.01M1490.5,2151.4h.01M1471.8,2136.8h.01M1578.3,2139.2h.01M1512.6,2076.6h.01M1475.2,2094.6h.01M1512.6,2150.8h.01M1576.8,2111.2h.01M1588.0,2138.1h.01M1493.9,2133.2h.01M1501.3,2083.4h.01M1481.7,2130.3h.01M1506.5,2142.9h.01M1506.3,2088.1h.01M1493.3,2092.6h.01M1597.4,2132.6h.01M1473.4,2081.5h.01M1508.1,2084.6h.01M1486.5,2103.1h.01M1489.3,2126.2h.01M1625.4,2105.0h.01M1505.6,2127.4h.01M1502.3,2120.1h.01M1575.1,2150.7h.01M1507.2,2150.6h.01M1614.8,2145.2h.01M1578.3,2120.3h.01M1594.1,2121.3h.01M1571.8,2139.5h.01M1477.7,2124.9h.01M1509.7,2113.7h.01M1588.0,2101.4h.01M1508.5,2122.6h.01M1454.7,2125.9h.01M1586.9,2133.2h.01M1489.1,2084.3h.01M1586.7,2087.9h.01M1628.6,1827.2h.01M1602.1,1837.8h.01M1640.0,1840.2h.01M1641.4,1844.3h.01M1483.2,1850.7h.01M1606.7,1860.3h.01M1460.1,1862.3h.01M1609.9,1879.0h.01M1626.8,1886.2h.01M1672.4,1890.0h.01M1454.1,1889.6h.01M1466.7,1910.1h.01M1618.0,1911.1h.01M1583.2,1915.3h.01M1636.6,1920.6h.01M1443.9,1934.8h.01M1472.2,1937.8h.01M1585.2,1936.6h.01M1602.1,1938.0h.01M1490.4,1942.7h.01M1509.5,1945.7h.01M1608.3,1946.9h.01M1435.2,1947.9h.01M1576.2,1951.3h.01M1512.1,1952.5h.01M1630.2,1955.3h.01M1491.2,1957.1h.01M1586.4,1959.3h.01M1489.0,1962.9h.01M1568.2,1963.5h.01M1504.7,1965.7h.01M1716.7,1966.3h.01M1578.4,1968.0h.01M1597.9,1967.8h.01M1603.5,1968.2h.01M1598.3,1976.8h.01M1592.9,1981.8h.01M1595.9,1981.4h.01M1517.3,1985.6h.01M1575.8,1986.4h.01M1601.3,1988.8h.01M1606.9,1990.8h.01M1510.5,1990.4h.01M1502.1,1991.4h.01M1714.7,1990.4h.01M1731.0,1989.6h.01M1421.2,1993.3h.01M1458.3,1987.8h.01M1575.8,1990.8h.01M1583.4,1993.5h.01M1505.5,1993.9h.01M1575.2,1995.9h.01M1594.9,1998.5h.01M1434.8,1998.5h.01M1493.5,1999.9h.01M1599.3,2003.5h.01M1616.9,2004.9h.01M1482.4,2008.5h.01M1463.9,2009.5h.01M1627.1,1725.3h.01M1863.9,2005.4h.01M1795.0,2009.8h.01M1806.0,2022.0h.01M1842.6,2027.4h.01M1808.9,2098.8h.01M1823.4,2105.2h.01M1825.0,2119.5h.01M1733.4,2061.8h.01M1720.5,2072.8h.01M1721.0,2093.5h.01M1724.3,2124.6h.01M1691.0,2028.8h.01M1327.9,2006.3h.01M1337.3,2005.8h.01M1308.7,2049.4h.01M1318.6,2046.4h.01M1339.7,2117.3h.01" fill="none" stroke="#b7b7b7" stroke-width="6.3" stroke-linecap="round"/>
<line x1="1501.20" y1="2187.20" x2="1501.20" y2="1576.20" stroke="#000" stroke-width="1.8" stroke-dasharray="7.6 6.9"/>
<line x1="1583.60" y1="2187.20" x2="1583.60" y2="1576.20" stroke="#000" stroke-width="1.8" stroke-dasharray="7.6 6.9"/>
<line x1="1121.40" y1="2000.00" x2="1964.20" y2="2000.00" stroke="#000" stroke-width="1.8" stroke-dasharray="7.5 6.8"/>
<rect x="1121.40" y="1576.20" width="842.80" height="611.00" fill="none" stroke="#000" stroke-width="2.3"/>
<line x1="1115.10" y1="2159.20" x2="1121.40" y2="2159.20" stroke="#000" stroke-width="2.2"/>
<text transform="translate(1054.80,2166.80) scale(1.0000,1.04)" font-size="34.60" fill="#000">0.0</text>
<line x1="1115.10" y1="2043.50" x2="1121.40" y2="2043.50" stroke="#000" stroke-width="2.2"/>
<text transform="translate(1054.89,2051.10) scale(1.0000,1.04)" font-size="34.60" fill="#000">2.5</text>
<line x1="1115.10" y1="1927.80" x2="1121.40" y2="1927.80" stroke="#000" stroke-width="2.2"/>
<text transform="translate(1054.80,1935.40) scale(1.0000,1.04)" font-size="34.60" fill="#000">5.0</text>
<line x1="1115.10" y1="1812.10" x2="1121.40" y2="1812.10" stroke="#000" stroke-width="2.2"/>
<text transform="translate(1054.89,1819.70) scale(1.0000,1.04)" font-size="34.60" fill="#000">7.5</text>
<line x1="1115.10" y1="1696.40" x2="1121.40" y2="1696.40" stroke="#000" stroke-width="2.2"/>
<text transform="translate(1035.60,1704.00) scale(1.0000,1.04)" font-size="34.60" fill="#000">10.0</text>
<line x1="1115.10" y1="1580.70" x2="1121.40" y2="1580.70" stroke="#000" stroke-width="2.2"/>
<text transform="translate(1035.69,1588.30) scale(1.0000,1.04)" font-size="34.60" fill="#000">12.5</text>
<line x1="1159.35" y1="2187.20" x2="1159.35" y2="2193.20" stroke="#000" stroke-width="2.2"/>
<text transform="translate(1144.45,2222.20) scale(1.0000,1.04)" font-size="34.60" fill="#000">-3</text>
<line x1="1287.00" y1="2187.20" x2="1287.00" y2="2193.20" stroke="#000" stroke-width="2.2"/>
<text transform="translate(1272.23,2222.20) scale(1.0000,1.04)" font-size="34.60" fill="#000">-2</text>
<line x1="1414.65" y1="2187.20" x2="1414.65" y2="2193.20" stroke="#000" stroke-width="2.2"/>
<text transform="translate(1402.74,2222.20) scale(1.0000,1.04)" font-size="34.60" fill="#000">-1</text>
<line x1="1542.30" y1="2187.20" x2="1542.30" y2="2193.20" stroke="#000" stroke-width="2.2"/>
<text transform="translate(1533.46,2222.20) scale(1.0000,1.04)" font-size="34.60" fill="#000">0</text>
<line x1="1669.95" y1="2187.20" x2="1669.95" y2="2193.20" stroke="#000" stroke-width="2.2"/>
<text transform="translate(1663.57,2222.20) scale(1.0000,1.04)" font-size="34.60" fill="#000">1</text>
<line x1="1797.60" y1="2187.20" x2="1797.60" y2="2193.20" stroke="#000" stroke-width="2.2"/>
<text transform="translate(1788.80,2222.20) scale(1.0000,1.04)" font-size="34.60" fill="#000">2</text>
<line x1="1925.25" y1="2187.20" x2="1925.25" y2="2193.20" stroke="#000" stroke-width="2.2"/>
<text transform="translate(1916.54,2222.20) scale(1.0000,1.04)" font-size="34.60" fill="#000">3</text>
<text transform="translate(1408.31,2268.40) scale(1,1.04)" font-size="33.80" fill="#000" letter-spacing="2.920">Log</text>
<text transform="translate(1469.75,2274.20) scale(1.3933,1.04)" font-size="26.50" fill="#000">2</text>
<text transform="translate(1497.71,2268.40) scale(1,1.04)" font-size="33.80" fill="#000" letter-spacing="1.787">Fold</text>
<text transform="translate(1581.11,2268.40) scale(1,1.04)" font-size="33.80" fill="#000" letter-spacing="1.768">Change</text>
<text transform="translate(1040.20,2023.51) rotate(-90) scale(1.0080,1.04)" font-size="36.00" fill="#000">−Log10 (P value)</text>
<text transform="translate(1489.30,1816.22) rotate(-90) scale(1.0114,1.04)" font-size="21.30" fill="#000">1.25 fold downregulated</text>
<text transform="translate(1606.80,1789.32) rotate(-90) scale(1.0148,1.04)" font-size="21.30" fill="#000">1.25 fold upregulated</text>
<text transform="translate(1815.51,1990.60) scale(0.9864,1.04)" font-size="28.20" fill="#000">FDR ≤ 0.05</text>
<line x1="1272.80" y1="1716.20" x2="1278.40" y2="1712.80" stroke="#000" stroke-width="1.8"/>
<circle cx="1269.80" cy="1721.50" r="6.40" fill="#E8463C"/>
<text transform="translate(1277.18,1712.40) scale(1,1.04)" font-size="34.20" fill="#000" letter-spacing="1.622">PDE6D</text>
<line x1="1374.00" y1="1874.00" x2="1378.50" y2="1868.50" stroke="#000" stroke-width="1.8"/>
<rect x="1363.80" y="1874.10" width="12.20" height="12.20" fill="#E8463C"/>
<text transform="translate(1347.75,1865.00) scale(1,1.04)" font-size="34.20" fill="#000" letter-spacing="2.119">cIAP1</text>
<line x1="1454.50" y1="1982.00" x2="1469.00" y2="1989.50" stroke="#000" stroke-width="1.8"/>
<circle cx="1475.50" cy="1995.40" r="6.60" fill="#E8463C"/>
<text transform="translate(1344.03,1980.20) scale(1,1.04)" font-size="34.20" fill="#2A1CF0" letter-spacing="2.328">TEAD1</text>
<line x1="1481.70" y1="2080.50" x2="1507.40" y2="2091.70" stroke="#000" stroke-width="1.8"/>
<circle cx="1512.40" cy="2094.40" r="6.40" fill="#000"/>
<text transform="translate(1385.19,2085.20) scale(1,1.04)" font-size="34.20" fill="#000" letter-spacing="3.351">CCN1</text>
<line x1="1539.70" y1="2106.20" x2="1529.70" y2="2112.90" stroke="#000" stroke-width="1.8"/>
<rect x="1518.60" y="2111.10" width="12.60" height="12.60" fill="#000"/>
<text transform="translate(1520.23,2102.90) scale(1,1.04)" font-size="34.20" fill="#000" letter-spacing="0.996">XIAP</text>
<line x1="1611.50" y1="2100.00" x2="1606.60" y2="2103.30" stroke="#000" stroke-width="1.8"/>
<circle cx="1604.00" cy="2106.30" r="6.40" fill="#000"/>
<text transform="translate(1612.69,2105.30) scale(1,1.04)" font-size="34.20" fill="#000" letter-spacing="2.503">CCN2</text>
<line x1="1495.50" y1="2149.70" x2="1514.00" y2="2136.30" stroke="#000" stroke-width="1.8"/>
<circle cx="1517.30" cy="2134.10" r="6.40" fill="#000"/>
<text transform="translate(1379.43,2175.00) scale(1,1.04)" font-size="34.20" fill="#2A1CF0" letter-spacing="1.603">TEAD3</text>
<line x1="1557.60" y1="2137.40" x2="1579.40" y2="2154.20" stroke="#000" stroke-width="1.8"/>
<circle cx="1554.20" cy="2134.40" r="6.40" fill="#000"/>
<text transform="translate(1588.43,2175.00) scale(1,1.04)" font-size="34.20" fill="#2A1CF0" letter-spacing="1.075">TEAD4</text>
</svg>
</body></html>
